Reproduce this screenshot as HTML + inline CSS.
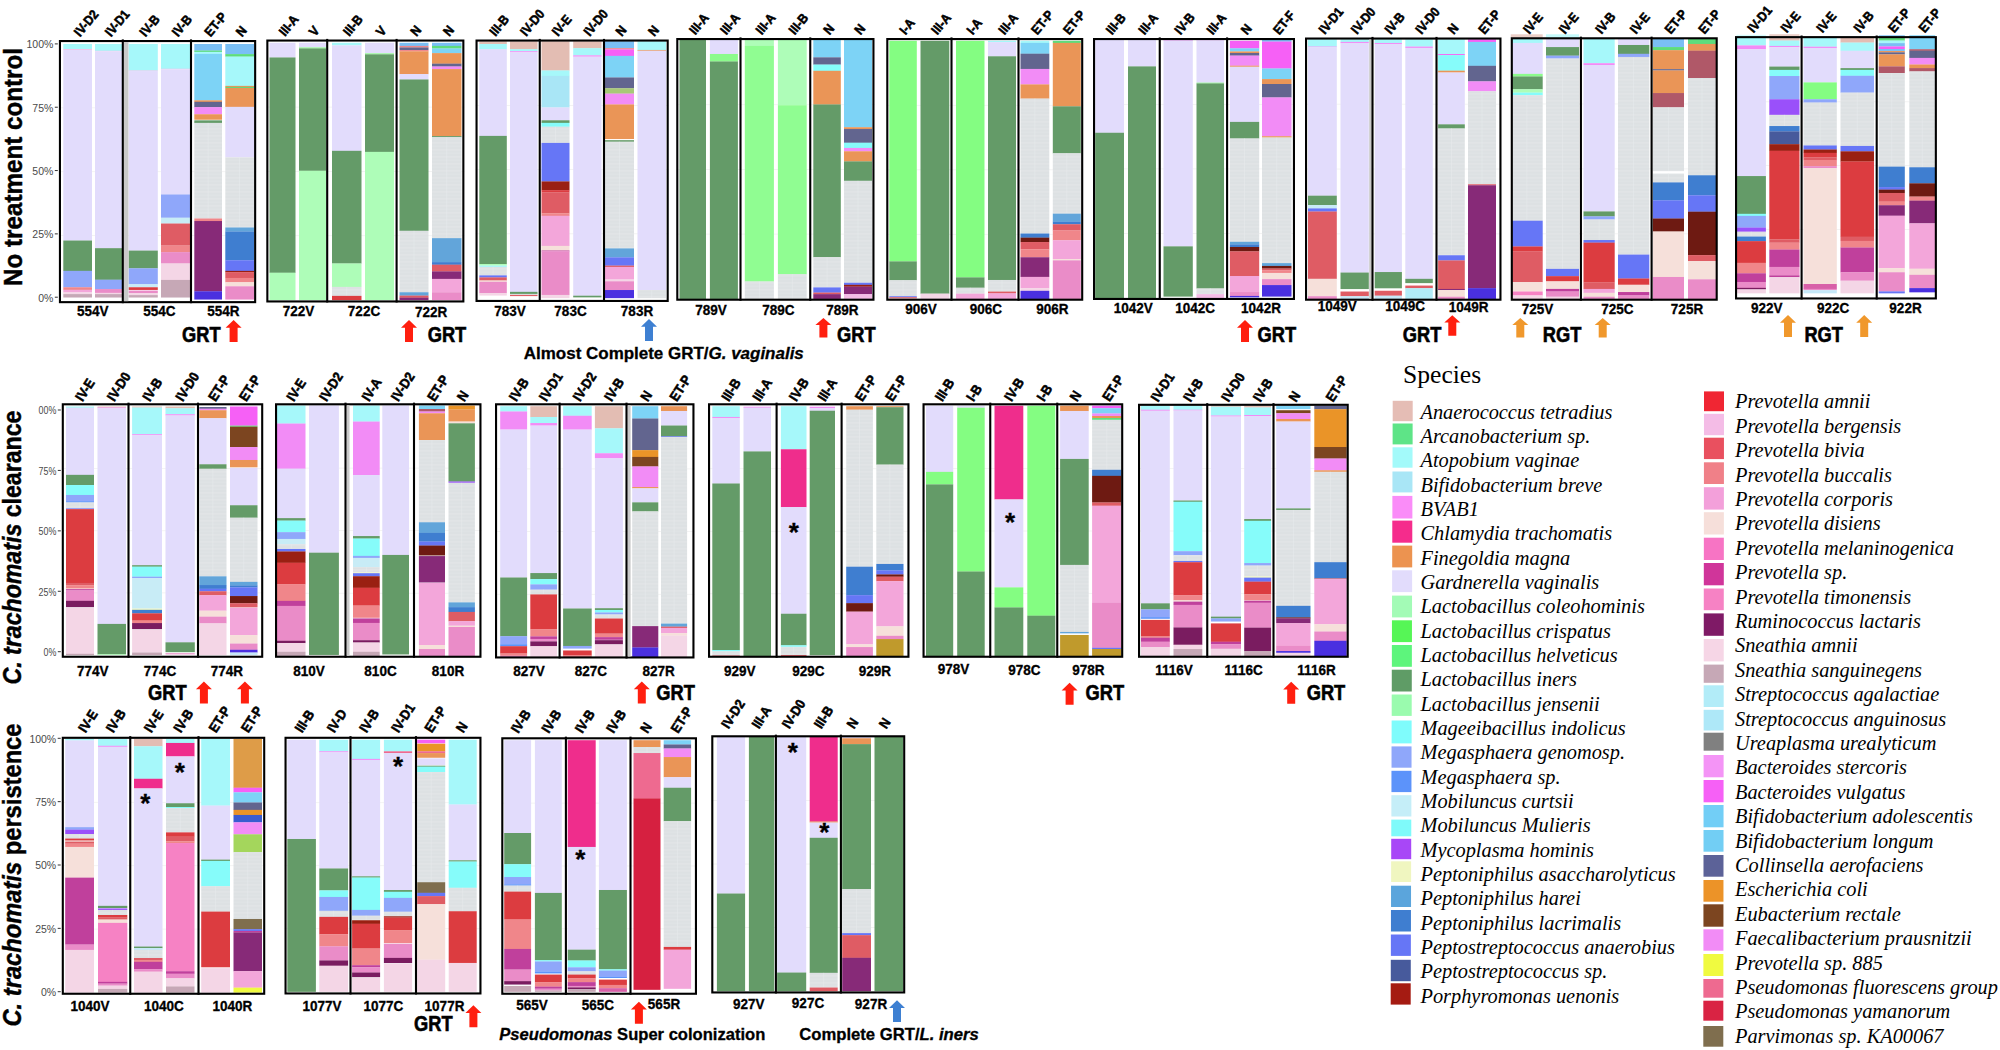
<!DOCTYPE html>
<html lang="en"><head><meta charset="utf-8"><title>Vaginal microbiome community composition</title>
<style>html,body{margin:0;padding:0;background:#fff}body{width:2000px;height:1050px;overflow:hidden;position:relative}svg{position:absolute;left:0;top:0;display:block}.s{font-family:'Liberation Sans', sans-serif;font-weight:700;fill:#000;stroke:#000;stroke-width:.3px}.ax{font-family:'Liberation Sans', sans-serif;font-size:10.7px;fill:#4a4a4a}.lg{font-family:'Liberation Serif', serif;font-style:italic;font-size:20.35px;fill:#000}</style></head><body>
<svg width="2000" height="1050" viewBox="0 0 2000 1050">
<defs><pattern id="gr" width="4" height="7" patternUnits="userSpaceOnUse"><rect width="4" height="7" fill="#DDE1E3"/><rect y="2.6" width="4" height="0.7" fill="#E7EAEC"/><rect y="5.8" width="4" height="0.6" fill="#E3E6E8"/></pattern><path id="arr" d="M0 0 L8 7.8 L4 7.8 L4 22 L-4 22 L-4 7.8 L-8 7.8 Z"/></defs>
<rect width="2000" height="1050" fill="#fff"/>
<text class="s" font-size="25" style="stroke-width:.45px" text-anchor="middle" transform="translate(22.3,167) rotate(-90)" textLength="238" lengthAdjust="spacingAndGlyphs"><tspan font-style="normal">No treatment control</tspan></text>
<text class="s" font-size="25" style="stroke-width:.45px" text-anchor="middle" transform="translate(21.4,547.5) rotate(-90)" textLength="274" lengthAdjust="spacingAndGlyphs"><tspan font-style="italic">C. trachomatis</tspan><tspan font-style="normal"> clearance</tspan></text>
<text class="s" font-size="25" style="stroke-width:.45px" text-anchor="middle" transform="translate(21.4,875) rotate(-90)" textLength="303" lengthAdjust="spacingAndGlyphs"><tspan font-style="italic">C. trachomatis</tspan><tspan font-style="normal"> persistence</tspan></text>
<text class="ax" x="53.3" y="48.3" text-anchor="end" textLength="26.81" lengthAdjust="spacingAndGlyphs">100%</text>
<rect x="54.8" y="43.4" width="3" height="1" fill="#333"/>
<text class="ax" x="53.3" y="111.62" text-anchor="end" textLength="20.98" lengthAdjust="spacingAndGlyphs">75%</text>
<rect x="54.8" y="106.72" width="3" height="1" fill="#333"/>
<text class="ax" x="53.3" y="174.95" text-anchor="end" textLength="20.98" lengthAdjust="spacingAndGlyphs">50%</text>
<rect x="54.8" y="170.05" width="3" height="1" fill="#333"/>
<text class="ax" x="53.3" y="238.28" text-anchor="end" textLength="20.98" lengthAdjust="spacingAndGlyphs">25%</text>
<rect x="54.8" y="233.38" width="3" height="1" fill="#333"/>
<text class="ax" x="53.3" y="301.6" text-anchor="end" textLength="15.15" lengthAdjust="spacingAndGlyphs">0%</text>
<rect x="54.8" y="296.7" width="3" height="1" fill="#333"/>
<text class="ax" x="56.3" y="414.4" text-anchor="end" textLength="17.77" lengthAdjust="spacingAndGlyphs">00%</text>
<rect x="57.8" y="409.5" width="3" height="1" fill="#333"/>
<text class="ax" x="56.3" y="474.82" text-anchor="end" textLength="17.77" lengthAdjust="spacingAndGlyphs">75%</text>
<rect x="57.8" y="469.93" width="3" height="1" fill="#333"/>
<text class="ax" x="56.3" y="535.25" text-anchor="end" textLength="17.77" lengthAdjust="spacingAndGlyphs">50%</text>
<rect x="57.8" y="530.35" width="3" height="1" fill="#333"/>
<text class="ax" x="56.3" y="595.68" text-anchor="end" textLength="17.77" lengthAdjust="spacingAndGlyphs">25%</text>
<rect x="57.8" y="590.78" width="3" height="1" fill="#333"/>
<text class="ax" x="56.3" y="656.1" text-anchor="end" textLength="12.83" lengthAdjust="spacingAndGlyphs">0%</text>
<rect x="57.8" y="651.2" width="3" height="1" fill="#333"/>
<text class="ax" x="56.2" y="742.7" text-anchor="end" textLength="26.81" lengthAdjust="spacingAndGlyphs">100%</text>
<rect x="57.7" y="737.8" width="3" height="1" fill="#333"/>
<text class="ax" x="56.2" y="806.05" text-anchor="end" textLength="20.98" lengthAdjust="spacingAndGlyphs">75%</text>
<rect x="57.7" y="801.15" width="3" height="1" fill="#333"/>
<text class="ax" x="56.2" y="869.4" text-anchor="end" textLength="20.98" lengthAdjust="spacingAndGlyphs">50%</text>
<rect x="57.7" y="864.5" width="3" height="1" fill="#333"/>
<text class="ax" x="56.2" y="932.75" text-anchor="end" textLength="20.98" lengthAdjust="spacingAndGlyphs">25%</text>
<rect x="57.7" y="927.85" width="3" height="1" fill="#333"/>
<text class="ax" x="56.2" y="996.1" text-anchor="end" textLength="15.15" lengthAdjust="spacingAndGlyphs">0%</text>
<rect x="57.7" y="991.2" width="3" height="1" fill="#333"/>
<g>
<rect x="58.9" y="107.45" width="197.3" height="0.8" fill="#f1f1f1"/>
<rect x="58.9" y="171.3" width="197.3" height="0.8" fill="#f1f1f1"/>
<rect x="58.9" y="235.15" width="197.3" height="0.8" fill="#f1f1f1"/>
<rect x="63.3" y="44" width="28.7" height="5.2" fill="#A6F8FA"/>
<rect x="63.3" y="49.05" width="28.7" height="0.91" fill="#F4BCE6"/>
<rect x="63.3" y="49.81" width="28.7" height="190.88" fill="#E2DCFC"/>
<rect x="63.3" y="240.54" width="28.7" height="30.46" fill="#649B68"/>
<rect x="63.3" y="270.85" width="28.7" height="16.57" fill="#8FA7FA"/>
<rect x="63.3" y="287.27" width="28.7" height="2.68" fill="#F0868A"/>
<rect x="63.3" y="289.8" width="28.7" height="2.68" fill="#F3A6DA"/>
<rect x="63.3" y="292.33" width="28.7" height="1.92" fill="#F4D6E6"/>
<rect x="63.3" y="294.09" width="28.7" height="3.43" fill="#C6A8B6"/>
<rect x="95" y="44" width="27.3" height="6.96" fill="#A6F8FA"/>
<rect x="95" y="50.81" width="27.3" height="0.65" fill="#F4BCE6"/>
<rect x="95" y="51.32" width="27.3" height="197" fill="#E2DCFC"/>
<rect x="95" y="248.17" width="27.3" height="31.7" fill="#649B68"/>
<rect x="95" y="279.72" width="27.3" height="9.49" fill="#8FA7FA"/>
<rect x="95" y="289.05" width="27.3" height="3.94" fill="#EA8CC8"/>
<rect x="95" y="292.84" width="27.3" height="1.41" fill="#F4D6E6"/>
<rect x="95" y="294.1" width="27.3" height="3.43" fill="#C6A8B6"/>
<rect x="128.6" y="44" width="29.2" height="26.7" fill="#A6F8FA"/>
<rect x="128.6" y="70.55" width="29.2" height="0.66" fill="#F4BCE6"/>
<rect x="128.6" y="71.06" width="29.2" height="179.69" fill="#E2DCFC"/>
<rect x="128.6" y="250.6" width="29.2" height="17.85" fill="#649B68"/>
<rect x="128.6" y="268.3" width="29.2" height="16.08" fill="#8FA7FA"/>
<rect x="128.6" y="284.23" width="29.2" height="3.18" fill="#C8ECF6"/>
<rect x="128.6" y="287.26" width="29.2" height="2.68" fill="#DC3C40"/>
<rect x="128.6" y="290.55" width="29.2" height="2.68" fill="#EA8CC8"/>
<rect x="128.6" y="293.08" width="29.2" height="2.17" fill="#F4D6E6"/>
<rect x="128.6" y="295.1" width="29.2" height="2.43" fill="#C6A8B6"/>
<rect x="161" y="44" width="29" height="24.93" fill="#A6F8FA"/>
<rect x="161" y="68.78" width="29" height="0.66" fill="#F4BCE6"/>
<rect x="161" y="69.29" width="29" height="125.32" fill="#E2DCFC"/>
<rect x="161" y="194.46" width="29" height="23.41" fill="#8FA7FA"/>
<rect x="161" y="217.72" width="29" height="5.97" fill="#C8ECF6"/>
<rect x="161" y="223.54" width="29" height="22.15" fill="#DF5C64"/>
<rect x="161" y="245.54" width="29" height="6.72" fill="#F0868A"/>
<rect x="161" y="252.11" width="29" height="11.53" fill="#EA8CC8"/>
<rect x="161" y="263.49" width="29" height="16.59" fill="#F4D6E6"/>
<rect x="161" y="279.93" width="29" height="17.6" fill="#C6A8B6"/>
<rect x="194.3" y="44" width="27.7" height="6.74" fill="#7ABFF5"/>
<rect x="194.3" y="50.59" width="27.7" height="1.42" fill="#5EDC7C"/>
<rect x="194.3" y="51.86" width="27.7" height="2.18" fill="#A6F8FA"/>
<rect x="194.3" y="53.89" width="27.7" height="46.56" fill="#7DD3F6"/>
<rect x="194.3" y="100.3" width="27.7" height="1.67" fill="#EA9557"/>
<rect x="194.3" y="101.83" width="27.7" height="5.48" fill="#62658F"/>
<rect x="194.3" y="107.15" width="27.7" height="7.25" fill="#F28CF6"/>
<rect x="194.3" y="114.25" width="27.7" height="5.48" fill="#EA9557"/>
<rect x="194.3" y="120.34" width="27.7" height="2.69" fill="#649B68"/>
<rect x="194.3" y="122.88" width="27.7" height="95.77" fill="url(#gr)"/>
<rect x="207.65" y="122.88" width="1" height="95.62" fill="#E8EBED" opacity=".55"/>
<rect x="194.3" y="218.49" width="27.7" height="2.69" fill="#F0868A"/>
<rect x="194.3" y="221.03" width="27.7" height="70.4" fill="#872A78"/>
<rect x="194.3" y="291.28" width="27.7" height="8.27" fill="#4A30E0"/>
<rect x="225.3" y="44" width="28.7" height="10.24" fill="#7ABFF5"/>
<rect x="225.3" y="54.09" width="28.7" height="2.67" fill="#5EDC7C"/>
<rect x="225.3" y="56.62" width="28.7" height="29.43" fill="#A6F8FA"/>
<rect x="225.3" y="85.89" width="28.7" height="1.16" fill="#EA9557"/>
<rect x="225.3" y="86.9" width="28.7" height="1.16" fill="#5EDC7C"/>
<rect x="225.3" y="87.91" width="28.7" height="19.08" fill="#EA9557"/>
<rect x="225.3" y="106.84" width="28.7" height="50.62" fill="#E2DCFC"/>
<rect x="225.3" y="157.31" width="28.7" height="70.31" fill="url(#gr)"/>
<rect x="239.15" y="157.31" width="1" height="70.16" fill="#E8EBED" opacity=".55"/>
<rect x="225.3" y="227.47" width="28.7" height="4.19" fill="#62A5DA"/>
<rect x="225.3" y="231.51" width="28.7" height="28.92" fill="#3F7ED0"/>
<rect x="225.3" y="260.28" width="28.7" height="10.75" fill="#6676F6"/>
<rect x="225.3" y="270.88" width="28.7" height="1.41" fill="#9A2012"/>
<rect x="225.3" y="272.14" width="28.7" height="5.95" fill="#DF5C64"/>
<rect x="225.3" y="277.95" width="28.7" height="4.44" fill="#F0868A"/>
<rect x="225.3" y="282.24" width="28.7" height="4.19" fill="#F6E0DA"/>
<rect x="225.3" y="286.28" width="28.7" height="13.27" fill="#EA8CC8"/>
<rect x="59.95" y="41.05" width="195.2" height="261.1" fill="none" stroke="#000" stroke-width="2.1"/>
<rect x="124" y="42" width="4.4" height="259.2" fill="#c9c9c9"/>
<rect x="121.75" y="39.4" width="2.1" height="263.8" fill="#000"/>
<rect x="189.95" y="39.4" width="2.1" height="263.8" fill="#000"/>
</g>
<text class="s" style="stroke-width:.55px" font-size="13.2" transform="translate(80.05,37.4) rotate(-50) scale(0.9,1)">IV-D2</text>
<text class="s" style="stroke-width:.55px" font-size="13.2" transform="translate(111.05,37.4) rotate(-50) scale(0.9,1)">IV-D1</text>
<text class="s" style="stroke-width:.55px" font-size="13.2" transform="translate(145.6,37.4) rotate(-50) scale(0.9,1)">IV-B</text>
<text class="s" style="stroke-width:.55px" font-size="13.2" transform="translate(177.9,37.4) rotate(-50) scale(0.9,1)">IV-B</text>
<text class="s" style="stroke-width:.55px" font-size="13.2" transform="translate(210.55,37.4) rotate(-50) scale(0.9,1)">ET-P</text>
<text class="s" style="stroke-width:.55px" font-size="13.2" transform="translate(242.05,37.4) rotate(-50) scale(0.9,1)">N</text>
<text class="s" font-size="14" text-anchor="middle" transform="translate(92.7,316) scale(0.965,1)">554V</text>
<text class="s" font-size="14" text-anchor="middle" transform="translate(159.3,316) scale(0.965,1)">554C</text>
<text class="s" font-size="14" text-anchor="middle" transform="translate(223.3,316) scale(0.965,1)">554R</text>
<g>
<rect x="266.3" y="106.7" width="198.1" height="0.8" fill="#f1f1f1"/>
<rect x="266.3" y="171" width="198.1" height="0.8" fill="#f1f1f1"/>
<rect x="266.3" y="235.3" width="198.1" height="0.8" fill="#f1f1f1"/>
<rect x="269.5" y="42.8" width="26" height="14.81" fill="#E2DCFC"/>
<rect x="269.5" y="57.46" width="26" height="215.43" fill="#649B68"/>
<rect x="269.5" y="272.74" width="26" height="27.41" fill="#AEFDB8"/>
<rect x="299" y="42.8" width="27" height="4.77" fill="#E2DCFC"/>
<rect x="299" y="47.42" width="27" height="1.18" fill="#8CFB8C"/>
<rect x="299" y="48.45" width="27" height="122.45" fill="#649B68"/>
<rect x="299" y="170.76" width="27" height="129.39" fill="#AEFDB8"/>
<rect x="332" y="42.8" width="29.5" height="2.72" fill="#A6F8FA"/>
<rect x="332" y="45.37" width="29.5" height="105.6" fill="#E2DCFC"/>
<rect x="332" y="150.82" width="29.5" height="112.8" fill="#649B68"/>
<rect x="332" y="263.48" width="29.5" height="23.56" fill="#AEFDB8"/>
<rect x="332" y="286.88" width="29.5" height="9.15" fill="url(#gr)"/>
<rect x="346.25" y="286.88" width="1" height="9" fill="#E8EBED" opacity=".55"/>
<rect x="332" y="295.88" width="29.5" height="4.27" fill="#DC3C40"/>
<rect x="365" y="42.8" width="29" height="10.7" fill="#E2DCFC"/>
<rect x="365" y="53.35" width="29" height="1.18" fill="#8CFB8C"/>
<rect x="365" y="54.37" width="29" height="97.63" fill="#649B68"/>
<rect x="365" y="151.85" width="29" height="148.3" fill="#AEFDB8"/>
<rect x="399.5" y="42.8" width="29" height="3.25" fill="#7ABFF5"/>
<rect x="399.5" y="45.9" width="29" height="1.7" fill="#F0868A"/>
<rect x="399.5" y="47.45" width="29" height="2.73" fill="#62658F"/>
<rect x="399.5" y="50.03" width="29" height="1.44" fill="#F0868A"/>
<rect x="399.5" y="51.32" width="29" height="22.87" fill="#EA9557"/>
<rect x="399.5" y="74.05" width="29" height="5.57" fill="#E2DCFC"/>
<rect x="399.5" y="79.47" width="29" height="151.47" fill="#649B68"/>
<rect x="399.5" y="230.79" width="29" height="61.61" fill="url(#gr)"/>
<rect x="413.5" y="230.79" width="1" height="61.46" fill="#E8EBED" opacity=".55"/>
<rect x="399.5" y="292.25" width="29" height="3.51" fill="#62A5DA"/>
<rect x="399.5" y="295.61" width="29" height="2.22" fill="#DF5C64"/>
<rect x="399.5" y="297.68" width="29" height="2.47" fill="#872A78"/>
<rect x="432" y="42.8" width="29.5" height="3.24" fill="#7ABFF5"/>
<rect x="432" y="45.89" width="29.5" height="2.73" fill="#5EDC7C"/>
<rect x="432" y="48.47" width="29.5" height="4.79" fill="#7DD3F6"/>
<rect x="432" y="53.11" width="29.5" height="10.72" fill="#EA9557"/>
<rect x="432" y="63.67" width="29.5" height="2.98" fill="#62658F"/>
<rect x="432" y="66.51" width="29.5" height="2.73" fill="#F28CF6"/>
<rect x="432" y="69.09" width="29.5" height="67.16" fill="#EA9557"/>
<rect x="432" y="136.09" width="29.5" height="1.18" fill="#649B68"/>
<rect x="432" y="137.12" width="29.5" height="101.17" fill="url(#gr)"/>
<rect x="446.25" y="137.12" width="1" height="101.02" fill="#E8EBED" opacity=".55"/>
<rect x="432" y="238.15" width="29.5" height="24.12" fill="#62A5DA"/>
<rect x="432" y="262.12" width="29.5" height="2.73" fill="#3F7ED0"/>
<rect x="432" y="264.69" width="29.5" height="6.85" fill="#DF5C64"/>
<rect x="432" y="271.39" width="29.5" height="7.62" fill="#872A78"/>
<rect x="432" y="278.87" width="29.5" height="13.55" fill="#F3A6DA"/>
<rect x="432" y="292.27" width="29.5" height="7.88" fill="#EA8CC8"/>
<rect x="267.35" y="40.55" width="196" height="260.9" fill="none" stroke="#000" stroke-width="2.1"/>
<rect x="326.15" y="38.9" width="2.1" height="263.6" fill="#000"/>
<rect x="395.55" y="38.9" width="2.1" height="263.6" fill="#000"/>
</g>
<text class="s" style="stroke-width:.55px" font-size="13.2" transform="translate(284.9,36.9) rotate(-50) scale(0.9,1)">III-A</text>
<text class="s" style="stroke-width:.55px" font-size="13.2" transform="translate(314.9,36.9) rotate(-50) scale(0.9,1)">V</text>
<text class="s" style="stroke-width:.55px" font-size="13.2" transform="translate(349.15,36.9) rotate(-50) scale(0.9,1)">III-B</text>
<text class="s" style="stroke-width:.55px" font-size="13.2" transform="translate(381.9,36.9) rotate(-50) scale(0.9,1)">V</text>
<text class="s" style="stroke-width:.55px" font-size="13.2" transform="translate(416.4,36.9) rotate(-50) scale(0.9,1)">N</text>
<text class="s" style="stroke-width:.55px" font-size="13.2" transform="translate(449.15,36.9) rotate(-50) scale(0.9,1)">N</text>
<text class="s" font-size="14" text-anchor="middle" transform="translate(298.6,315.8) scale(0.965,1)">722V</text>
<text class="s" font-size="14" text-anchor="middle" transform="translate(364,316.3) scale(0.965,1)">722C</text>
<text class="s" font-size="14" text-anchor="middle" transform="translate(431.2,317.3) scale(0.965,1)">722R</text>
<g>
<rect x="475.5" y="105" width="193.25" height="0.8" fill="#f1f1f1"/>
<rect x="475.5" y="169.2" width="193.25" height="0.8" fill="#f1f1f1"/>
<rect x="475.5" y="233.4" width="193.25" height="0.8" fill="#f1f1f1"/>
<rect x="479.3" y="41.2" width="27.5" height="2.98" fill="#E3BDB3"/>
<rect x="479.3" y="44.03" width="27.5" height="5.3" fill="#A6F8FA"/>
<rect x="479.3" y="49.18" width="27.5" height="86.87" fill="#E2DCFC"/>
<rect x="479.3" y="135.89" width="27.5" height="128.29" fill="#649B68"/>
<rect x="479.3" y="264.03" width="27.5" height="1.69" fill="#AEFDB8"/>
<rect x="479.3" y="265.58" width="27.5" height="1.44" fill="#A6F8FA"/>
<rect x="479.3" y="266.86" width="27.5" height="8.64" fill="url(#gr)"/>
<rect x="492.55" y="266.86" width="1" height="8.49" fill="#E8EBED" opacity=".55"/>
<rect x="479.3" y="275.36" width="27.5" height="2.21" fill="#6676F6"/>
<rect x="479.3" y="277.41" width="27.5" height="3.24" fill="#DF5C64"/>
<rect x="479.3" y="280.5" width="27.5" height="1.44" fill="#F6E0DA"/>
<rect x="479.3" y="281.79" width="27.5" height="11.47" fill="#EA8CC8"/>
<rect x="479.3" y="293.11" width="27.5" height="2.47" fill="#F4D6E6"/>
<rect x="510" y="41.2" width="27.5" height="8.11" fill="#E3BDB3"/>
<rect x="510" y="49.16" width="27.5" height="2.2" fill="#A6F8FA"/>
<rect x="510" y="51.22" width="27.5" height="1.18" fill="#F28CF6"/>
<rect x="510" y="52.24" width="27.5" height="239.74" fill="#E2DCFC"/>
<rect x="510" y="291.84" width="27.5" height="2.2" fill="#649B68"/>
<rect x="510" y="293.89" width="27.5" height="1.18" fill="url(#gr)"/>
<rect x="510" y="294.92" width="27.5" height="1.18" fill="#DF5C64"/>
<rect x="541.5" y="41.2" width="28" height="29.43" fill="#E3BDB3"/>
<rect x="541.5" y="70.48" width="28" height="5.54" fill="#A6F8FA"/>
<rect x="541.5" y="75.87" width="28" height="31.74" fill="#A9E6F6"/>
<rect x="541.5" y="107.45" width="28" height="12.99" fill="#E2DCFC"/>
<rect x="541.5" y="120.29" width="28" height="2.72" fill="#649B68"/>
<rect x="541.5" y="122.86" width="28" height="4" fill="#86FCFA"/>
<rect x="541.5" y="126.71" width="28" height="16.33" fill="url(#gr)"/>
<rect x="555" y="126.71" width="1" height="16.18" fill="#E8EBED" opacity=".55"/>
<rect x="541.5" y="142.89" width="28" height="38.67" fill="#6676F6"/>
<rect x="541.5" y="181.41" width="28" height="8.88" fill="#9A2012"/>
<rect x="541.5" y="190.14" width="28" height="2.2" fill="#DC3C40"/>
<rect x="541.5" y="192.2" width="28" height="21.21" fill="#DF5C64"/>
<rect x="541.5" y="213.26" width="28" height="2.72" fill="#F0868A"/>
<rect x="541.5" y="215.82" width="28" height="30.2" fill="#F3A6DA"/>
<rect x="541.5" y="245.87" width="28" height="4.77" fill="#F6E0DA"/>
<rect x="541.5" y="250.49" width="28" height="0.92" fill="#C0409C"/>
<rect x="541.5" y="251.26" width="28" height="43.81" fill="#EA8CC8"/>
<rect x="541.5" y="294.92" width="28" height="3.23" fill="#F4D6E6"/>
<rect x="573.2" y="41.2" width="28.3" height="7.09" fill="#E3BDB3"/>
<rect x="573.2" y="48.14" width="28.3" height="7.35" fill="#A6F8FA"/>
<rect x="573.2" y="55.34" width="28.3" height="1.44" fill="#F28CF6"/>
<rect x="573.2" y="56.62" width="28.3" height="239.21" fill="#E2DCFC"/>
<rect x="573.2" y="295.69" width="28.3" height="1.69" fill="#649B68"/>
<rect x="604.7" y="41.2" width="29.3" height="7.09" fill="#7ABFF5"/>
<rect x="604.7" y="48.14" width="29.3" height="1.44" fill="#F0868A"/>
<rect x="604.7" y="49.43" width="29.3" height="6.58" fill="#F660F6"/>
<rect x="604.7" y="55.85" width="29.3" height="21.74" fill="#7DD3F6"/>
<rect x="604.7" y="77.45" width="29.3" height="10.95" fill="#62658F"/>
<rect x="604.7" y="88.24" width="29.3" height="5.55" fill="#A8C878"/>
<rect x="604.7" y="93.64" width="29.3" height="10.95" fill="#F28CF6"/>
<rect x="604.7" y="104.44" width="29.3" height="34.6" fill="#EA9557"/>
<rect x="604.7" y="140.17" width="29.3" height="1.69" fill="#649B68"/>
<rect x="604.7" y="141.71" width="29.3" height="106.83" fill="url(#gr)"/>
<rect x="618.85" y="141.71" width="1" height="106.68" fill="#E8EBED" opacity=".55"/>
<rect x="604.7" y="248.39" width="29.3" height="9.15" fill="#62A5DA"/>
<rect x="604.7" y="257.38" width="29.3" height="8.38" fill="#6676F6"/>
<rect x="604.7" y="265.61" width="29.3" height="1.44" fill="#DF5C64"/>
<rect x="604.7" y="266.9" width="29.3" height="12.75" fill="#F3A6DA"/>
<rect x="604.7" y="279.49" width="29.3" height="1.95" fill="#F4D6E6"/>
<rect x="604.7" y="281.29" width="29.3" height="8.89" fill="#EA8CC8"/>
<rect x="604.7" y="290.03" width="29.3" height="8.12" fill="#4A30E0"/>
<rect x="637.5" y="41.2" width="28.5" height="8.9" fill="#A6F8FA"/>
<rect x="637.5" y="49.95" width="28.5" height="0.92" fill="#EA9557"/>
<rect x="637.5" y="50.72" width="28.5" height="239.45" fill="#E2DCFC"/>
<rect x="637.5" y="290.02" width="28.5" height="8.13" fill="url(#gr)"/>
<rect x="651.25" y="290.02" width="1" height="7.98" fill="#E8EBED" opacity=".55"/>
<rect x="476.55" y="40.55" width="191.15" height="260.4" fill="none" stroke="#000" stroke-width="2.1"/>
<rect x="538.7" y="38.9" width="2.1" height="263.1" fill="#000"/>
<rect x="602.95" y="38.9" width="2.1" height="263.1" fill="#000"/>
</g>
<text class="s" style="stroke-width:.55px" font-size="13.2" transform="translate(495.45,36.9) rotate(-50) scale(0.9,1)">III-B</text>
<text class="s" style="stroke-width:.55px" font-size="13.2" transform="translate(526.15,36.9) rotate(-50) scale(0.9,1)">IV-D0</text>
<text class="s" style="stroke-width:.55px" font-size="13.2" transform="translate(557.9,36.9) rotate(-50) scale(0.9,1)">IV-E</text>
<text class="s" style="stroke-width:.55px" font-size="13.2" transform="translate(589.75,36.9) rotate(-50) scale(0.9,1)">IV-D0</text>
<text class="s" style="stroke-width:.55px" font-size="13.2" transform="translate(621.75,36.9) rotate(-50) scale(0.9,1)">N</text>
<text class="s" style="stroke-width:.55px" font-size="13.2" transform="translate(654.15,36.9) rotate(-50) scale(0.9,1)">N</text>
<text class="s" font-size="14" text-anchor="middle" transform="translate(510,316) scale(0.965,1)">783V</text>
<text class="s" font-size="14" text-anchor="middle" transform="translate(570.5,316) scale(0.965,1)">783C</text>
<text class="s" font-size="14" text-anchor="middle" transform="translate(637,316) scale(0.965,1)">783R</text>
<g>
<rect x="676.25" y="104.3" width="198.25" height="0.8" fill="#f1f1f1"/>
<rect x="676.25" y="169" width="198.25" height="0.8" fill="#f1f1f1"/>
<rect x="676.25" y="233.7" width="198.25" height="0.8" fill="#f1f1f1"/>
<rect x="679.5" y="40" width="26.5" height="258.95" fill="#649B68"/>
<rect x="709.9" y="40" width="28" height="14.13" fill="#E2DCFC"/>
<rect x="709.9" y="53.98" width="28" height="7.66" fill="#8CFB8C"/>
<rect x="709.9" y="61.48" width="28" height="237.47" fill="#649B68"/>
<rect x="744.8" y="40" width="29.1" height="6.1" fill="#AEFDB8"/>
<rect x="744.8" y="45.95" width="29.1" height="235.66" fill="#90FD92"/>
<rect x="744.8" y="281.46" width="29.1" height="17.49" fill="url(#gr)"/>
<rect x="758.85" y="281.46" width="1" height="17.34" fill="#E8EBED" opacity=".55"/>
<rect x="777.9" y="40" width="28.8" height="65.37" fill="#AEFDB8"/>
<rect x="777.9" y="105.22" width="28.8" height="169.15" fill="#90FD92"/>
<rect x="777.9" y="274.21" width="28.8" height="24.74" fill="url(#gr)"/>
<rect x="791.8" y="274.21" width="1" height="24.59" fill="#E8EBED" opacity=".55"/>
<rect x="813.3" y="40" width="27.5" height="17.49" fill="#7DD3F6"/>
<rect x="813.3" y="57.34" width="27.5" height="7.4" fill="#62658F"/>
<rect x="813.3" y="64.59" width="27.5" height="6.36" fill="#86FCFA"/>
<rect x="813.3" y="70.8" width="27.5" height="33.79" fill="#EA9557"/>
<rect x="813.3" y="104.44" width="27.5" height="152.84" fill="#649B68"/>
<rect x="813.3" y="257.13" width="27.5" height="30.43" fill="url(#gr)"/>
<rect x="826.55" y="257.13" width="1" height="30.28" fill="#E8EBED" opacity=".55"/>
<rect x="813.3" y="287.41" width="27.5" height="5.33" fill="#6676F6"/>
<rect x="813.3" y="292.59" width="27.5" height="1.7" fill="#DF5C64"/>
<rect x="813.3" y="294.14" width="27.5" height="4.81" fill="#872A78"/>
<rect x="844" y="40" width="28" height="87.37" fill="#7DD3F6"/>
<rect x="844" y="127.22" width="28" height="1.96" fill="#EA9557"/>
<rect x="844" y="129.03" width="28" height="13.87" fill="#62658F"/>
<rect x="844" y="142.74" width="28" height="5.33" fill="#86FCFA"/>
<rect x="844" y="147.92" width="28" height="3.51" fill="#F28CF6"/>
<rect x="844" y="151.28" width="28" height="10.24" fill="#EA9557"/>
<rect x="844" y="161.38" width="28" height="19.56" fill="#649B68"/>
<rect x="844" y="180.79" width="28" height="102.12" fill="url(#gr)"/>
<rect x="857.5" y="180.79" width="1" height="101.97" fill="#E8EBED" opacity=".55"/>
<rect x="844" y="282.75" width="28" height="2.22" fill="#6676F6"/>
<rect x="844" y="284.82" width="28" height="1.96" fill="#9A2012"/>
<rect x="844" y="286.64" width="28" height="7.66" fill="#872A78"/>
<rect x="844" y="294.14" width="28" height="4.81" fill="#F4BCE6"/>
<rect x="677.3" y="39.05" width="196.15" height="260.65" fill="none" stroke="#000" stroke-width="2.1"/>
<rect x="739.45" y="37.4" width="2.1" height="263.35" fill="#000"/>
<rect x="809.2" y="37.4" width="2.1" height="263.35" fill="#000"/>
</g>
<text class="s" style="stroke-width:.55px" font-size="13.2" transform="translate(695.15,35.4) rotate(-50) scale(0.9,1)">III-A</text>
<text class="s" style="stroke-width:.55px" font-size="13.2" transform="translate(726.3,35.4) rotate(-50) scale(0.9,1)">III-A</text>
<text class="s" style="stroke-width:.55px" font-size="13.2" transform="translate(761.75,35.4) rotate(-50) scale(0.9,1)">III-A</text>
<text class="s" style="stroke-width:.55px" font-size="13.2" transform="translate(794.7,35.4) rotate(-50) scale(0.9,1)">III-B</text>
<text class="s" style="stroke-width:.55px" font-size="13.2" transform="translate(829.45,35.4) rotate(-50) scale(0.9,1)">N</text>
<text class="s" style="stroke-width:.55px" font-size="13.2" transform="translate(860.4,35.4) rotate(-50) scale(0.9,1)">N</text>
<text class="s" font-size="14" text-anchor="middle" transform="translate(711,314.6) scale(0.965,1)">789V</text>
<text class="s" font-size="14" text-anchor="middle" transform="translate(778.3,314.6) scale(0.965,1)">789C</text>
<text class="s" font-size="14" text-anchor="middle" transform="translate(842.3,314.6) scale(0.965,1)">789R</text>
<g>
<rect x="886.25" y="104.9" width="197" height="0.8" fill="#f1f1f1"/>
<rect x="886.25" y="169.4" width="197" height="0.8" fill="#f1f1f1"/>
<rect x="886.25" y="233.9" width="197" height="0.8" fill="#f1f1f1"/>
<rect x="889.3" y="40.8" width="27.5" height="220.74" fill="#84FD82"/>
<rect x="889.3" y="261.39" width="27.5" height="18.98" fill="#649B68"/>
<rect x="889.3" y="280.22" width="27.5" height="16.15" fill="url(#gr)"/>
<rect x="902.55" y="280.22" width="1" height="16" fill="#E8EBED" opacity=".55"/>
<rect x="889.3" y="296.22" width="27.5" height="1.18" fill="#6676F6"/>
<rect x="889.3" y="297.25" width="27.5" height="1.18" fill="#DF5C64"/>
<rect x="920.5" y="40.8" width="28.8" height="252.99" fill="#649B68"/>
<rect x="920.5" y="293.64" width="28.8" height="5.31" fill="#F4D6E6"/>
<rect x="956" y="40.8" width="28.5" height="236.74" fill="#84FD82"/>
<rect x="956" y="277.39" width="28.5" height="10.47" fill="#649B68"/>
<rect x="956" y="287.71" width="28.5" height="6.08" fill="url(#gr)"/>
<rect x="969.75" y="287.71" width="1" height="5.93" fill="#E8EBED" opacity=".55"/>
<rect x="956" y="293.64" width="28.5" height="5.31" fill="#F3A6DA"/>
<rect x="988" y="40.8" width="28" height="1.44" fill="#A6F8FA"/>
<rect x="988" y="42.09" width="28" height="14.34" fill="#E2DCFC"/>
<rect x="988" y="56.28" width="28" height="223.84" fill="#649B68"/>
<rect x="988" y="279.97" width="28" height="11.76" fill="url(#gr)"/>
<rect x="1001.5" y="279.97" width="1" height="11.61" fill="#E8EBED" opacity=".55"/>
<rect x="988" y="291.58" width="28" height="1.96" fill="#DF5C64"/>
<rect x="988" y="293.38" width="28" height="5.57" fill="#F3A6DA"/>
<rect x="1020.5" y="40.8" width="28.8" height="2.21" fill="#A6F8FA"/>
<rect x="1020.5" y="42.86" width="28.8" height="10.99" fill="#7DD3F6"/>
<rect x="1020.5" y="53.7" width="28.8" height="15.37" fill="#62658F"/>
<rect x="1020.5" y="68.92" width="28.8" height="15.63" fill="#F28CF6"/>
<rect x="1020.5" y="84.4" width="28.8" height="14.34" fill="#EA9557"/>
<rect x="1020.5" y="98.59" width="28.8" height="135.08" fill="url(#gr)"/>
<rect x="1034.4" y="98.59" width="1" height="134.93" fill="#E8EBED" opacity=".55"/>
<rect x="1020.5" y="233.53" width="28.8" height="4.28" fill="#3F7ED0"/>
<rect x="1020.5" y="237.65" width="28.8" height="4.54" fill="#6E1A12"/>
<rect x="1020.5" y="242.04" width="28.8" height="7.37" fill="#DF5C64"/>
<rect x="1020.5" y="249.26" width="28.8" height="8.15" fill="#F0868A"/>
<rect x="1020.5" y="257.26" width="28.8" height="19.76" fill="#872A78"/>
<rect x="1020.5" y="276.87" width="28.8" height="11.5" fill="#F3A6DA"/>
<rect x="1020.5" y="288.22" width="28.8" height="2.73" fill="#F4D6E6"/>
<rect x="1020.5" y="290.8" width="28.8" height="8.15" fill="#4A30E0"/>
<rect x="1052.8" y="40.8" width="28" height="2.21" fill="#5EDC7C"/>
<rect x="1052.8" y="42.86" width="28" height="63.62" fill="#EA9557"/>
<rect x="1052.8" y="106.33" width="28" height="47.11" fill="#649B68"/>
<rect x="1052.8" y="153.29" width="28" height="60.52" fill="url(#gr)"/>
<rect x="1066.3" y="153.29" width="1" height="60.37" fill="#E8EBED" opacity=".55"/>
<rect x="1052.8" y="213.66" width="28" height="8.15" fill="#62A5DA"/>
<rect x="1052.8" y="221.66" width="28" height="2.73" fill="#3F7ED0"/>
<rect x="1052.8" y="224.24" width="28" height="6.34" fill="#DF5C64"/>
<rect x="1052.8" y="230.43" width="28" height="9.95" fill="#F0868A"/>
<rect x="1052.8" y="240.23" width="28" height="18.98" fill="#F3A6DA"/>
<rect x="1052.8" y="259.07" width="28" height="1.44" fill="#F6E0DA"/>
<rect x="1052.8" y="260.36" width="28" height="38.59" fill="#EA8CC8"/>
<rect x="887.3" y="39.05" width="194.9" height="260.65" fill="none" stroke="#000" stroke-width="2.1"/>
<rect x="950.45" y="37.4" width="2.1" height="263.35" fill="#000"/>
<rect x="1017.45" y="37.4" width="2.1" height="263.35" fill="#000"/>
</g>
<text class="s" style="stroke-width:.55px" font-size="13.2" transform="translate(905.45,35.4) rotate(-50) scale(0.9,1)">I-A</text>
<text class="s" style="stroke-width:.55px" font-size="13.2" transform="translate(937.3,35.4) rotate(-50) scale(0.9,1)">III-A</text>
<text class="s" style="stroke-width:.55px" font-size="13.2" transform="translate(972.65,35.4) rotate(-50) scale(0.9,1)">I-A</text>
<text class="s" style="stroke-width:.55px" font-size="13.2" transform="translate(1004.4,35.4) rotate(-50) scale(0.9,1)">III-A</text>
<text class="s" style="stroke-width:.55px" font-size="13.2" transform="translate(1037.3,35.4) rotate(-50) scale(0.9,1)">ET-P</text>
<text class="s" style="stroke-width:.55px" font-size="13.2" transform="translate(1069.2,35.4) rotate(-50) scale(0.9,1)">ET-P</text>
<text class="s" font-size="14" text-anchor="middle" transform="translate(921,313.6) scale(0.965,1)">906V</text>
<text class="s" font-size="14" text-anchor="middle" transform="translate(985.8,313.6) scale(0.965,1)">906C</text>
<text class="s" font-size="14" text-anchor="middle" transform="translate(1052.3,313.6) scale(0.965,1)">906R</text>
<g>
<rect x="1093" y="103.95" width="202" height="0.8" fill="#f1f1f1"/>
<rect x="1093" y="168.5" width="202" height="0.8" fill="#f1f1f1"/>
<rect x="1093" y="233.05" width="202" height="0.8" fill="#f1f1f1"/>
<rect x="1095.2" y="39.8" width="28.8" height="93.1" fill="#E2DCFC"/>
<rect x="1095.2" y="132.75" width="28.8" height="165.4" fill="#649B68"/>
<rect x="1128" y="39.8" width="28" height="26.74" fill="#E2DCFC"/>
<rect x="1128" y="66.39" width="28" height="231.76" fill="#649B68"/>
<rect x="1163.5" y="39.8" width="29.3" height="0.92" fill="#F28CF6"/>
<rect x="1163.5" y="40.57" width="29.3" height="205.94" fill="#E2DCFC"/>
<rect x="1163.5" y="246.36" width="29.3" height="50.24" fill="#649B68"/>
<rect x="1196.5" y="39.8" width="27.5" height="0.67" fill="#F28CF6"/>
<rect x="1196.5" y="40.32" width="27.5" height="42.49" fill="#E2DCFC"/>
<rect x="1196.5" y="82.66" width="27.5" height="0.92" fill="#8CFB8C"/>
<rect x="1196.5" y="83.44" width="27.5" height="205.16" fill="#649B68"/>
<rect x="1196.5" y="288.45" width="27.5" height="5.83" fill="url(#gr)"/>
<rect x="1209.75" y="288.45" width="1" height="5.68" fill="#E8EBED" opacity=".55"/>
<rect x="1196.5" y="294.13" width="27.5" height="4.02" fill="#F4BCE6"/>
<rect x="1229.9" y="40.84" width="29.3" height="7.66" fill="#F660F6"/>
<rect x="1229.9" y="48.35" width="29.3" height="3.26" fill="#7DD3F6"/>
<rect x="1229.9" y="51.45" width="29.3" height="1.7" fill="#EA9557"/>
<rect x="1229.9" y="53.01" width="29.3" height="2.74" fill="#62658F"/>
<rect x="1229.9" y="55.6" width="29.3" height="10.25" fill="#F28CF6"/>
<rect x="1229.9" y="65.7" width="29.3" height="1.19" fill="#EA9557"/>
<rect x="1229.9" y="66.73" width="29.3" height="55.31" fill="#E2DCFC"/>
<rect x="1229.9" y="121.9" width="29.3" height="16.72" fill="#649B68"/>
<rect x="1229.9" y="138.47" width="29.3" height="103.48" fill="url(#gr)"/>
<rect x="1244.05" y="138.47" width="1" height="103.33" fill="#E8EBED" opacity=".55"/>
<rect x="1229.9" y="241.8" width="29.3" height="2.74" fill="#62A5DA"/>
<rect x="1229.9" y="244.39" width="29.3" height="2.74" fill="#3F7ED0"/>
<rect x="1229.9" y="246.98" width="29.3" height="4.55" fill="#6E1A12"/>
<rect x="1229.9" y="251.38" width="29.3" height="24.75" fill="#DF5C64"/>
<rect x="1229.9" y="275.99" width="29.3" height="16.21" fill="#F3A6DA"/>
<rect x="1229.9" y="292.04" width="29.3" height="4.03" fill="#EA8CC8"/>
<rect x="1229.9" y="295.93" width="29.3" height="1.44" fill="#4A30E0"/>
<rect x="1262" y="39.8" width="29.5" height="1.96" fill="#7ABFF5"/>
<rect x="1262" y="41.61" width="29.5" height="27.03" fill="#F660F6"/>
<rect x="1262" y="68.49" width="29.5" height="10.75" fill="#7DD3F6"/>
<rect x="1262" y="79.09" width="29.5" height="5.06" fill="#EA9557"/>
<rect x="1262" y="84" width="29.5" height="13.59" fill="#62658F"/>
<rect x="1262" y="97.44" width="29.5" height="38.92" fill="#F28CF6"/>
<rect x="1262" y="136.21" width="29.5" height="1.44" fill="#EA9557"/>
<rect x="1262" y="137.5" width="29.5" height="125.76" fill="url(#gr)"/>
<rect x="1276.25" y="137.5" width="1" height="125.61" fill="#E8EBED" opacity=".55"/>
<rect x="1262" y="263.11" width="29.5" height="2.99" fill="#62A5DA"/>
<rect x="1262" y="265.95" width="29.5" height="2.73" fill="#6E1A12"/>
<rect x="1262" y="268.54" width="29.5" height="1.96" fill="#DF5C64"/>
<rect x="1262" y="270.34" width="29.5" height="2.73" fill="#F0868A"/>
<rect x="1262" y="272.93" width="29.5" height="6.35" fill="#F6E0DA"/>
<rect x="1262" y="279.13" width="29.5" height="6.09" fill="#EA8CC8"/>
<rect x="1262" y="285.08" width="29.5" height="11.52" fill="#4A30E0"/>
<rect x="1094.05" y="39.05" width="199.9" height="259.9" fill="none" stroke="#000" stroke-width="2.1"/>
<rect x="1158.7" y="37.4" width="2.1" height="262.6" fill="#000"/>
<rect x="1226.05" y="37.4" width="2.1" height="262.6" fill="#000"/>
</g>
<text class="s" style="stroke-width:.55px" font-size="13.2" transform="translate(1112,35.4) rotate(-50) scale(0.9,1)">III-B</text>
<text class="s" style="stroke-width:.55px" font-size="13.2" transform="translate(1144.4,35.4) rotate(-50) scale(0.9,1)">III-A</text>
<text class="s" style="stroke-width:.55px" font-size="13.2" transform="translate(1180.55,35.4) rotate(-50) scale(0.9,1)">IV-B</text>
<text class="s" style="stroke-width:.55px" font-size="13.2" transform="translate(1212.65,35.4) rotate(-50) scale(0.9,1)">III-A</text>
<text class="s" style="stroke-width:.55px" font-size="13.2" transform="translate(1246.95,35.4) rotate(-50) scale(0.9,1)">N</text>
<text class="s" style="stroke-width:.55px" font-size="13.2" transform="translate(1279.15,35.4) rotate(-50) scale(0.9,1)">ET-F</text>
<text class="s" font-size="14" text-anchor="middle" transform="translate(1133.2,312.5) scale(0.965,1)">1042V</text>
<text class="s" font-size="14" text-anchor="middle" transform="translate(1195.2,312.5) scale(0.965,1)">1042C</text>
<text class="s" font-size="14" text-anchor="middle" transform="translate(1261,312.5) scale(0.965,1)">1042R</text>
<g>
<rect x="1305" y="103.77" width="196.5" height="0.8" fill="#f1f1f1"/>
<rect x="1305" y="168.65" width="196.5" height="0.8" fill="#f1f1f1"/>
<rect x="1305" y="233.53" width="196.5" height="0.8" fill="#f1f1f1"/>
<rect x="1308" y="39.3" width="28.8" height="7.42" fill="#A6F8FA"/>
<rect x="1308" y="46.57" width="28.8" height="0.67" fill="#F28CF6"/>
<rect x="1308" y="47.09" width="28.8" height="148.73" fill="#E2DCFC"/>
<rect x="1308" y="195.68" width="28.8" height="9.5" fill="#649B68"/>
<rect x="1308" y="205.03" width="28.8" height="3.53" fill="#C8ECF6"/>
<rect x="1308" y="208.4" width="28.8" height="3.27" fill="#6676F6"/>
<rect x="1308" y="211.52" width="28.8" height="67.43" fill="#DF5C64"/>
<rect x="1308" y="278.8" width="28.8" height="17.55" fill="#F6E0DA"/>
<rect x="1308" y="296.2" width="28.8" height="2.75" fill="#EA8CC8"/>
<rect x="1340.5" y="39.3" width="28.3" height="2.75" fill="#A6F8FA"/>
<rect x="1340.5" y="41.9" width="28.3" height="1.19" fill="#F28CF6"/>
<rect x="1340.5" y="42.94" width="28.3" height="229.78" fill="#E2DCFC"/>
<rect x="1340.5" y="272.56" width="28.3" height="16.51" fill="#649B68"/>
<rect x="1340.5" y="291.53" width="28.3" height="4.83" fill="#DF5C64"/>
<rect x="1340.5" y="296.2" width="28.3" height="2.75" fill="#C5E8F8"/>
<rect x="1374.7" y="39.3" width="27.2" height="3.79" fill="#A6F8FA"/>
<rect x="1374.7" y="42.94" width="27.2" height="1.19" fill="#F28CF6"/>
<rect x="1374.7" y="43.98" width="27.2" height="228.22" fill="#E2DCFC"/>
<rect x="1374.7" y="272.04" width="27.2" height="16.26" fill="#649B68"/>
<rect x="1374.7" y="290.75" width="27.2" height="5.09" fill="#DF5C64"/>
<rect x="1374.7" y="295.68" width="27.2" height="3.27" fill="#C5E8F8"/>
<rect x="1405.3" y="39.3" width="27.5" height="7.42" fill="#A6F8FA"/>
<rect x="1405.3" y="46.57" width="27.5" height="1.45" fill="#F28CF6"/>
<rect x="1405.3" y="47.86" width="27.5" height="231.11" fill="#E2DCFC"/>
<rect x="1405.3" y="278.82" width="27.5" height="4.3" fill="#649B68"/>
<rect x="1405.3" y="285.57" width="27.5" height="2.75" fill="#DF5C64"/>
<rect x="1405.3" y="288.16" width="27.5" height="10.79" fill="#B2ECF8"/>
<rect x="1438.1" y="39.3" width="26.7" height="14.93" fill="#A6F8FA"/>
<rect x="1438.1" y="54.08" width="26.7" height="1.19" fill="#F660F6"/>
<rect x="1438.1" y="55.11" width="26.7" height="15.7" fill="#86FCFA"/>
<rect x="1438.1" y="70.67" width="26.7" height="1.96" fill="#EA9557"/>
<rect x="1438.1" y="72.48" width="26.7" height="52" fill="#E2DCFC"/>
<rect x="1438.1" y="124.33" width="26.7" height="4.3" fill="#649B68"/>
<rect x="1438.1" y="128.48" width="26.7" height="126.92" fill="url(#gr)"/>
<rect x="1450.95" y="128.48" width="1" height="126.77" fill="#E8EBED" opacity=".55"/>
<rect x="1438.1" y="255.25" width="26.7" height="5.33" fill="#6676F6"/>
<rect x="1438.1" y="260.43" width="26.7" height="28.67" fill="#DF5C64"/>
<rect x="1438.1" y="288.95" width="26.7" height="1.19" fill="#872A78"/>
<rect x="1438.1" y="289.99" width="26.7" height="6.89" fill="#F6E0DA"/>
<rect x="1438.1" y="296.73" width="26.7" height="2.22" fill="#EA8CC8"/>
<rect x="1468" y="39.3" width="28" height="2.75" fill="#F660F6"/>
<rect x="1468" y="41.9" width="28" height="24.05" fill="#7DD3F6"/>
<rect x="1468" y="65.8" width="28" height="15.74" fill="#62658F"/>
<rect x="1468" y="81.38" width="28" height="10.02" fill="#F28CF6"/>
<rect x="1468" y="91.25" width="28" height="93.14" fill="url(#gr)"/>
<rect x="1481.5" y="91.25" width="1" height="92.99" fill="#E8EBED" opacity=".55"/>
<rect x="1468" y="184.25" width="28" height="1.19" fill="#DF5C64"/>
<rect x="1468" y="185.28" width="28" height="103.01" fill="#872A78"/>
<rect x="1468" y="288.15" width="28" height="10.8" fill="#4A30E0"/>
<rect x="1306.05" y="38.55" width="194.4" height="261.15" fill="none" stroke="#000" stroke-width="2.1"/>
<rect x="1369.2" y="39.5" width="2.4" height="259.25" fill="#c9c9c9"/>
<rect x="1371.45" y="36.9" width="2.1" height="263.85" fill="#000"/>
<rect x="1435.45" y="36.9" width="2.1" height="263.85" fill="#000"/>
</g>
<text class="s" style="stroke-width:.55px" font-size="13.2" transform="translate(1324.8,34.9) rotate(-50) scale(0.9,1)">IV-D1</text>
<text class="s" style="stroke-width:.55px" font-size="13.2" transform="translate(1357.05,34.9) rotate(-50) scale(0.9,1)">IV-D0</text>
<text class="s" style="stroke-width:.55px" font-size="13.2" transform="translate(1390.7,34.9) rotate(-50) scale(0.9,1)">IV-B</text>
<text class="s" style="stroke-width:.55px" font-size="13.2" transform="translate(1421.45,34.9) rotate(-50) scale(0.9,1)">IV-D0</text>
<text class="s" style="stroke-width:.55px" font-size="13.2" transform="translate(1453.85,34.9) rotate(-50) scale(0.9,1)">N</text>
<text class="s" style="stroke-width:.55px" font-size="13.2" transform="translate(1484.4,34.9) rotate(-50) scale(0.9,1)">ET-P</text>
<text class="s" font-size="14" text-anchor="middle" transform="translate(1337.3,311.1) scale(0.965,1)">1049V</text>
<text class="s" font-size="14" text-anchor="middle" transform="translate(1405.2,311.1) scale(0.965,1)">1049C</text>
<text class="s" font-size="14" text-anchor="middle" transform="translate(1468.6,312.3) scale(0.965,1)">1049R</text>
<g>
<rect x="1510.75" y="103.55" width="207" height="0.8" fill="#f1f1f1"/>
<rect x="1510.75" y="168.5" width="207" height="0.8" fill="#f1f1f1"/>
<rect x="1510.75" y="233.45" width="207" height="0.8" fill="#f1f1f1"/>
<rect x="1511" y="39" width="31.7" height="4.05" fill="#A6F8FA"/>
<rect x="1511" y="42.9" width="31.7" height="31.13" fill="#E2DCFC"/>
<rect x="1511" y="73.88" width="31.7" height="2.75" fill="#8CFB8C"/>
<rect x="1511" y="76.49" width="31.7" height="12.91" fill="#649B68"/>
<rect x="1511" y="89.24" width="31.7" height="3.53" fill="#AEFDB8"/>
<rect x="1511" y="92.63" width="31.7" height="2.75" fill="#86FCFA"/>
<rect x="1511" y="95.23" width="31.7" height="125.62" fill="url(#gr)"/>
<rect x="1526.35" y="95.23" width="1" height="125.47" fill="#E8EBED" opacity=".55"/>
<rect x="1511" y="220.7" width="31.7" height="25.92" fill="#6676F6"/>
<rect x="1511" y="246.48" width="31.7" height="4.84" fill="#DC3C40"/>
<rect x="1511" y="251.16" width="31.7" height="31.13" fill="#DF5C64"/>
<rect x="1511" y="282.14" width="31.7" height="9.52" fill="#F6E0DA"/>
<rect x="1511" y="291.51" width="31.7" height="4.05" fill="#F682C4"/>
<rect x="1511" y="295.42" width="31.7" height="3.53" fill="#F4D6E6"/>
<rect x="1546" y="39" width="33" height="8.22" fill="#E2DCFC"/>
<rect x="1546" y="47.07" width="33" height="8.74" fill="#649B68"/>
<rect x="1546" y="55.66" width="33" height="3.01" fill="#8FA7FA"/>
<rect x="1546" y="58.52" width="33" height="210.49" fill="url(#gr)"/>
<rect x="1562" y="58.52" width="1" height="210.34" fill="#E8EBED" opacity=".55"/>
<rect x="1546" y="268.86" width="33" height="7.44" fill="#6676F6"/>
<rect x="1546" y="276.15" width="33" height="5.36" fill="#DC3C40"/>
<rect x="1546" y="281.36" width="33" height="7.7" fill="#F6E0DA"/>
<rect x="1546" y="288.91" width="33" height="2.75" fill="#C0409C"/>
<rect x="1546" y="291.51" width="33" height="5.36" fill="#EA8CC8"/>
<rect x="1546" y="296.72" width="33" height="2.23" fill="#F4D6E6"/>
<rect x="1583.5" y="39" width="31.2" height="24.34" fill="#A6F8FA"/>
<rect x="1583.5" y="63.19" width="31.2" height="1.97" fill="#F28CF6"/>
<rect x="1583.5" y="65.01" width="31.2" height="146.56" fill="#E2DCFC"/>
<rect x="1583.5" y="211.42" width="31.2" height="5.09" fill="#649B68"/>
<rect x="1583.5" y="216.36" width="31.2" height="3.27" fill="#8FA7FA"/>
<rect x="1583.5" y="219.48" width="31.2" height="20.69" fill="url(#gr)"/>
<rect x="1598.6" y="219.48" width="1" height="20.54" fill="#E8EBED" opacity=".55"/>
<rect x="1583.5" y="240.03" width="31.2" height="2.75" fill="#6676F6"/>
<rect x="1583.5" y="242.63" width="31.2" height="39.68" fill="#DC3C40"/>
<rect x="1583.5" y="282.16" width="31.2" height="6.91" fill="#DF5C64"/>
<rect x="1583.5" y="288.92" width="31.2" height="4.05" fill="#F3A6DA"/>
<rect x="1583.5" y="292.82" width="31.2" height="4.05" fill="#F6E0DA"/>
<rect x="1583.5" y="296.72" width="31.2" height="2.23" fill="#EA8CC8"/>
<rect x="1618" y="39" width="31.3" height="6.13" fill="#E2DCFC"/>
<rect x="1618" y="44.98" width="31.3" height="8.99" fill="#649B68"/>
<rect x="1618" y="53.82" width="31.3" height="3.27" fill="#8FA7FA"/>
<rect x="1618" y="56.94" width="31.3" height="197.8" fill="url(#gr)"/>
<rect x="1633.15" y="56.94" width="1" height="197.65" fill="#E8EBED" opacity=".55"/>
<rect x="1618" y="254.59" width="31.3" height="24.08" fill="#6676F6"/>
<rect x="1618" y="278.52" width="31.3" height="6.39" fill="#DC3C40"/>
<rect x="1618" y="284.76" width="31.3" height="7.43" fill="#F6E0DA"/>
<rect x="1618" y="292.04" width="31.3" height="3.53" fill="#C0409C"/>
<rect x="1618" y="295.42" width="31.3" height="3.53" fill="#EA8CC8"/>
<rect x="1652.8" y="39" width="31.2" height="8.2" fill="#7ABFF5"/>
<rect x="1652.8" y="47.05" width="31.2" height="3.27" fill="#5EDC7C"/>
<rect x="1652.8" y="50.17" width="31.2" height="19.12" fill="#EA9557"/>
<rect x="1652.8" y="69.14" width="31.2" height="1.45" fill="#62658F"/>
<rect x="1652.8" y="70.44" width="31.2" height="22.75" fill="#EA9557"/>
<rect x="1652.8" y="93.04" width="31.2" height="14.44" fill="#B05868"/>
<rect x="1652.8" y="107.33" width="31.2" height="63.8" fill="url(#gr)"/>
<rect x="1667.9" y="107.33" width="1" height="63.65" fill="#E8EBED" opacity=".55"/>
<rect x="1652.8" y="173.58" width="31.2" height="8.98" fill="url(#gr)"/>
<rect x="1667.9" y="173.58" width="1" height="8.83" fill="#E8EBED" opacity=".55"/>
<rect x="1652.8" y="182.41" width="31.2" height="18.08" fill="#3F7ED0"/>
<rect x="1652.8" y="200.34" width="31.2" height="18.34" fill="#6676F6"/>
<rect x="1652.8" y="218.52" width="31.2" height="13.14" fill="#6E1A12"/>
<rect x="1652.8" y="231.51" width="31.2" height="45.62" fill="#F6E0DA"/>
<rect x="1652.8" y="276.98" width="31.2" height="21.97" fill="#EA8CC8"/>
<rect x="1688" y="39" width="28" height="5.09" fill="#5EDC7C"/>
<rect x="1688" y="43.94" width="28" height="6.91" fill="#EA9557"/>
<rect x="1688" y="50.7" width="28" height="27.46" fill="#B05868"/>
<rect x="1688" y="78.01" width="28" height="97.41" fill="url(#gr)"/>
<rect x="1701.5" y="78.01" width="1" height="97.26" fill="#E8EBED" opacity=".55"/>
<rect x="1688" y="175.27" width="28" height="20.17" fill="#3F7ED0"/>
<rect x="1688" y="195.3" width="28" height="16.53" fill="#6676F6"/>
<rect x="1688" y="211.68" width="28" height="43.58" fill="#6E1A12"/>
<rect x="1688" y="255.11" width="28" height="6.13" fill="#DF5C64"/>
<rect x="1688" y="261.09" width="28" height="18.35" fill="#F6E0DA"/>
<rect x="1688" y="279.3" width="28" height="19.65" fill="#EA8CC8"/>
<rect x="1510.75" y="34.3" width="31.95" height="3.45" fill="#EBCFC8"/>
<rect x="1546" y="34.3" width="33" height="3.45" fill="#C4FAFB"/>
<rect x="1511.8" y="38.3" width="204.9" height="261.4" fill="none" stroke="#000" stroke-width="2.1"/>
<rect x="1579.85" y="36.65" width="2.1" height="264.1" fill="#000"/>
<rect x="1650.55" y="36.65" width="2.1" height="264.1" fill="#000"/>
</g>
<text class="s" style="stroke-width:.55px" font-size="13.2" transform="translate(1529.25,34.65) rotate(-50) scale(0.9,1)">IV-E</text>
<text class="s" style="stroke-width:.55px" font-size="13.2" transform="translate(1564.9,34.65) rotate(-50) scale(0.9,1)">IV-E</text>
<text class="s" style="stroke-width:.55px" font-size="13.2" transform="translate(1601.5,34.65) rotate(-50) scale(0.9,1)">IV-B</text>
<text class="s" style="stroke-width:.55px" font-size="13.2" transform="translate(1636.05,34.65) rotate(-50) scale(0.9,1)">IV-E</text>
<text class="s" style="stroke-width:.55px" font-size="13.2" transform="translate(1670.8,34.65) rotate(-50) scale(0.9,1)">ET-P</text>
<text class="s" style="stroke-width:.55px" font-size="13.2" transform="translate(1704.4,34.65) rotate(-50) scale(0.9,1)">ET-P</text>
<text class="s" font-size="14" text-anchor="middle" transform="translate(1537.5,313.9) scale(0.965,1)">725V</text>
<text class="s" font-size="14" text-anchor="middle" transform="translate(1617.3,313.9) scale(0.965,1)">725C</text>
<text class="s" font-size="14" text-anchor="middle" transform="translate(1687,313.9) scale(0.965,1)">725R</text>
<g>
<rect x="1735" y="101.4" width="201.9" height="0.8" fill="#f1f1f1"/>
<rect x="1735" y="165.2" width="201.9" height="0.8" fill="#f1f1f1"/>
<rect x="1735" y="229" width="201.9" height="0.8" fill="#f1f1f1"/>
<rect x="1736.5" y="38" width="29.4" height="7.55" fill="#A6F8FA"/>
<rect x="1736.5" y="45.4" width="29.4" height="3.98" fill="#F28CF6"/>
<rect x="1736.5" y="49.23" width="29.4" height="126.98" fill="#E2DCFC"/>
<rect x="1736.5" y="176.06" width="29.4" height="37.92" fill="#649B68"/>
<rect x="1736.5" y="213.83" width="29.4" height="2.19" fill="#86FCFA"/>
<rect x="1736.5" y="215.87" width="29.4" height="11.89" fill="#8FA7FA"/>
<rect x="1736.5" y="227.61" width="29.4" height="4.23" fill="#9A50FA"/>
<rect x="1736.5" y="231.7" width="29.4" height="5" fill="url(#gr)"/>
<rect x="1750.7" y="231.7" width="1" height="4.85" fill="#E8EBED" opacity=".55"/>
<rect x="1736.5" y="236.55" width="29.4" height="4.74" fill="#3F7ED0"/>
<rect x="1736.5" y="241.14" width="29.4" height="21.84" fill="#DC3C40"/>
<rect x="1736.5" y="262.83" width="29.4" height="10.61" fill="#F0868A"/>
<rect x="1736.5" y="273.29" width="29.4" height="8.83" fill="#C0409C"/>
<rect x="1736.5" y="281.97" width="29.4" height="6.02" fill="#EA8CC8"/>
<rect x="1736.5" y="287.84" width="29.4" height="1.68" fill="#7A1C60"/>
<rect x="1736.5" y="289.37" width="29.4" height="3.98" fill="#F4D6E6"/>
<rect x="1769.3" y="38" width="30.2" height="2.7" fill="#E3BDB3"/>
<rect x="1769.3" y="40.55" width="30.2" height="5.51" fill="#A6F8FA"/>
<rect x="1769.3" y="45.91" width="30.2" height="1.43" fill="#F28CF6"/>
<rect x="1769.3" y="47.19" width="30.2" height="19.55" fill="#E2DCFC"/>
<rect x="1769.3" y="66.58" width="30.2" height="3.47" fill="#649B68"/>
<rect x="1769.3" y="69.9" width="30.2" height="6.27" fill="#86FCFA"/>
<rect x="1769.3" y="76.02" width="30.2" height="23.37" fill="#8FA7FA"/>
<rect x="1769.3" y="99.25" width="30.2" height="15.72" fill="#9A50FA"/>
<rect x="1769.3" y="114.82" width="30.2" height="11.38" fill="url(#gr)"/>
<rect x="1783.9" y="114.82" width="1" height="11.23" fill="#E8EBED" opacity=".55"/>
<rect x="1769.3" y="126.04" width="30.2" height="5.51" fill="#3F7ED0"/>
<rect x="1769.3" y="131.4" width="30.2" height="12.91" fill="#475A9C"/>
<rect x="1769.3" y="144.16" width="30.2" height="6.79" fill="#9A2012"/>
<rect x="1769.3" y="150.8" width="30.2" height="88.7" fill="#DC3C40"/>
<rect x="1769.3" y="239.35" width="30.2" height="3.47" fill="#DF5C64"/>
<rect x="1769.3" y="242.67" width="30.2" height="7.04" fill="#F0868A"/>
<rect x="1769.3" y="249.56" width="30.2" height="17.5" fill="#C0409C"/>
<rect x="1769.3" y="266.91" width="30.2" height="8.57" fill="#EA8CC8"/>
<rect x="1769.3" y="275.34" width="30.2" height="1.94" fill="#C0409C"/>
<rect x="1769.3" y="277.12" width="30.2" height="16.23" fill="#F4D6E6"/>
<rect x="1803.5" y="38" width="33.3" height="8.83" fill="#A6F8FA"/>
<rect x="1803.5" y="46.68" width="33.3" height="1.43" fill="#F28CF6"/>
<rect x="1803.5" y="47.95" width="33.3" height="34.6" fill="#E2DCFC"/>
<rect x="1803.5" y="82.4" width="33.3" height="16.99" fill="#84FD82"/>
<rect x="1803.5" y="99.25" width="33.3" height="3.47" fill="#8FA7FA"/>
<rect x="1803.5" y="102.57" width="33.3" height="43.02" fill="url(#gr)"/>
<rect x="1819.65" y="102.57" width="1" height="42.87" fill="#E8EBED" opacity=".55"/>
<rect x="1803.5" y="145.44" width="33.3" height="4.23" fill="#6676F6"/>
<rect x="1803.5" y="149.52" width="33.3" height="3.47" fill="#9A2012"/>
<rect x="1803.5" y="152.84" width="33.3" height="4.74" fill="#DC3C40"/>
<rect x="1803.5" y="157.43" width="33.3" height="2.7" fill="#DF5C64"/>
<rect x="1803.5" y="159.99" width="33.3" height="6.27" fill="#F0868A"/>
<rect x="1803.5" y="166.11" width="33.3" height="2.19" fill="#EA8CC8"/>
<rect x="1803.5" y="168.15" width="33.3" height="116.01" fill="#F6E0DA"/>
<rect x="1803.5" y="284.01" width="33.3" height="5" fill="#D860A8"/>
<rect x="1803.5" y="288.86" width="33.3" height="1.43" fill="#EA8CC8"/>
<rect x="1803.5" y="290.14" width="33.3" height="3.21" fill="#C5E8F8"/>
<rect x="1840.5" y="38" width="33.5" height="4.74" fill="#E3BDB3"/>
<rect x="1840.5" y="42.59" width="33.5" height="8.32" fill="#A6F8FA"/>
<rect x="1840.5" y="50.76" width="33.5" height="17.5" fill="#E2DCFC"/>
<rect x="1840.5" y="68.11" width="33.5" height="1.94" fill="#649B68"/>
<rect x="1840.5" y="69.9" width="33.5" height="6.02" fill="#86FCFA"/>
<rect x="1840.5" y="75.77" width="33.5" height="16.99" fill="#8FA7FA"/>
<rect x="1840.5" y="92.61" width="33.5" height="53.49" fill="url(#gr)"/>
<rect x="1856.75" y="92.61" width="1" height="53.34" fill="#E8EBED" opacity=".55"/>
<rect x="1840.5" y="145.95" width="33.5" height="5.51" fill="#6676F6"/>
<rect x="1840.5" y="151.31" width="33.5" height="10.36" fill="#9A2012"/>
<rect x="1840.5" y="161.52" width="33.5" height="75.43" fill="#DC3C40"/>
<rect x="1840.5" y="236.8" width="33.5" height="4.23" fill="#DF5C64"/>
<rect x="1840.5" y="240.88" width="33.5" height="6.79" fill="#F0868A"/>
<rect x="1840.5" y="247.52" width="33.5" height="24.9" fill="#C0409C"/>
<rect x="1840.5" y="272.27" width="33.5" height="8.57" fill="#EA8CC8"/>
<rect x="1840.5" y="280.7" width="33.5" height="12.65" fill="#F4D6E6"/>
<rect x="1878.7" y="38" width="26.1" height="2.71" fill="#5EDC7C"/>
<rect x="1878.7" y="40.56" width="26.1" height="2.71" fill="#A6F8FA"/>
<rect x="1878.7" y="43.11" width="26.1" height="3.47" fill="#7ABFF5"/>
<rect x="1878.7" y="46.44" width="26.1" height="2.71" fill="#F660F6"/>
<rect x="1878.7" y="49" width="26.1" height="2.2" fill="#7ABFF5"/>
<rect x="1878.7" y="51.04" width="26.1" height="1.43" fill="#EA9557"/>
<rect x="1878.7" y="52.32" width="26.1" height="2.2" fill="#62658F"/>
<rect x="1878.7" y="54.37" width="26.1" height="12.17" fill="#EA9557"/>
<rect x="1878.7" y="66.38" width="26.1" height="6.8" fill="#B05868"/>
<rect x="1878.7" y="73.03" width="26.1" height="93.74" fill="url(#gr)"/>
<rect x="1891.25" y="73.03" width="1" height="93.59" fill="#E8EBED" opacity=".55"/>
<rect x="1878.7" y="166.62" width="26.1" height="20.61" fill="#3F7ED0"/>
<rect x="1878.7" y="187.08" width="26.1" height="2.71" fill="#6676F6"/>
<rect x="1878.7" y="189.64" width="26.1" height="3.47" fill="#6E1A12"/>
<rect x="1878.7" y="192.96" width="26.1" height="8.84" fill="#DF5C64"/>
<rect x="1878.7" y="201.66" width="26.1" height="3.73" fill="#F0868A"/>
<rect x="1878.7" y="205.24" width="26.1" height="10.63" fill="#872A78"/>
<rect x="1878.7" y="215.72" width="26.1" height="52.57" fill="#F3A6DA"/>
<rect x="1878.7" y="268.14" width="26.1" height="4.24" fill="#F6E0DA"/>
<rect x="1878.7" y="272.23" width="26.1" height="19.33" fill="#EA8CC8"/>
<rect x="1878.7" y="291.41" width="26.1" height="1.94" fill="#6676F6"/>
<rect x="1909.3" y="38" width="25.9" height="11.37" fill="#7DD3F6"/>
<rect x="1909.3" y="49.22" width="25.9" height="1.68" fill="#B05868"/>
<rect x="1909.3" y="50.75" width="25.9" height="7.29" fill="#62658F"/>
<rect x="1909.3" y="57.89" width="25.9" height="6.78" fill="#F28CF6"/>
<rect x="1909.3" y="64.51" width="25.9" height="3.72" fill="#EA9557"/>
<rect x="1909.3" y="68.08" width="25.9" height="3.46" fill="#B05868"/>
<rect x="1909.3" y="71.4" width="25.9" height="96.01" fill="url(#gr)"/>
<rect x="1921.75" y="71.4" width="1" height="95.86" fill="#E8EBED" opacity=".55"/>
<rect x="1909.3" y="167.26" width="25.9" height="16.21" fill="#3F7ED0"/>
<rect x="1909.3" y="183.32" width="25.9" height="13.41" fill="#6E1A12"/>
<rect x="1909.3" y="196.58" width="25.9" height="4.23" fill="#F0868A"/>
<rect x="1909.3" y="200.65" width="25.9" height="22.84" fill="#872A78"/>
<rect x="1909.3" y="223.35" width="25.9" height="45.53" fill="#F3A6DA"/>
<rect x="1909.3" y="268.73" width="25.9" height="6.27" fill="#F6E0DA"/>
<rect x="1909.3" y="274.84" width="25.9" height="13.41" fill="#EA8CC8"/>
<rect x="1909.3" y="288.1" width="25.9" height="4.23" fill="#4A30E0"/>
<rect x="1769.3" y="34.2" width="30.2" height="2.4" fill="#EBCFC8"/>
<rect x="1736.5" y="34.8" width="29.4" height="1.8" fill="#D5FBFC"/>
<rect x="1878.7" y="35.2" width="26.1" height="1.4" fill="#8CC8F5"/>
<rect x="1909.3" y="35.2" width="25.9" height="1.4" fill="#8CD6F6"/>
<rect x="1736.05" y="37.15" width="199.8" height="261.3" fill="none" stroke="#000" stroke-width="2.1"/>
<rect x="1800.55" y="35.5" width="2.1" height="264" fill="#000"/>
<rect x="1875.65" y="35.5" width="2.1" height="264" fill="#000"/>
</g>
<text class="s" style="stroke-width:.55px" font-size="13.2" transform="translate(1753.6,33.5) rotate(-50) scale(0.9,1)">IV-D1</text>
<text class="s" style="stroke-width:.55px" font-size="13.2" transform="translate(1786.8,33.5) rotate(-50) scale(0.9,1)">IV-E</text>
<text class="s" style="stroke-width:.55px" font-size="13.2" transform="translate(1822.55,33.5) rotate(-50) scale(0.9,1)">IV-E</text>
<text class="s" style="stroke-width:.55px" font-size="13.2" transform="translate(1859.65,33.5) rotate(-50) scale(0.9,1)">IV-B</text>
<text class="s" style="stroke-width:.55px" font-size="13.2" transform="translate(1894.15,33.5) rotate(-50) scale(0.9,1)">ET-P</text>
<text class="s" style="stroke-width:.55px" font-size="13.2" transform="translate(1924.65,33.5) rotate(-50) scale(0.9,1)">ET-P</text>
<text class="s" font-size="14" text-anchor="middle" transform="translate(1766.7,313.3) scale(0.965,1)">922V</text>
<text class="s" font-size="14" text-anchor="middle" transform="translate(1833.2,313.3) scale(0.965,1)">922C</text>
<text class="s" font-size="14" text-anchor="middle" transform="translate(1905.5,313.3) scale(0.965,1)">922R</text>
<g>
<rect x="61.75" y="468.23" width="201.5" height="0.8" fill="#f1f1f1"/>
<rect x="61.75" y="530.35" width="201.5" height="0.8" fill="#f1f1f1"/>
<rect x="61.75" y="592.48" width="201.5" height="0.8" fill="#f1f1f1"/>
<rect x="66" y="406.5" width="28" height="1.39" fill="#A6F8FA"/>
<rect x="66" y="407.74" width="28" height="67.25" fill="#E2DCFC"/>
<rect x="66" y="474.84" width="28" height="10.34" fill="#649B68"/>
<rect x="66" y="485.03" width="28" height="10.09" fill="#86FCFA"/>
<rect x="66" y="494.97" width="28" height="6.36" fill="#8FA7FA"/>
<rect x="66" y="501.18" width="28" height="1.39" fill="#5C93FA"/>
<rect x="66" y="502.42" width="28" height="6.11" fill="url(#gr)"/>
<rect x="79.5" y="502.42" width="1" height="5.96" fill="#E8EBED" opacity=".55"/>
<rect x="66" y="508.38" width="28" height="0.9" fill="#6676F6"/>
<rect x="66" y="509.13" width="28" height="73.95" fill="#DC3C40"/>
<rect x="66" y="582.93" width="28" height="2.39" fill="#DF5C64"/>
<rect x="66" y="585.17" width="28" height="3.38" fill="#F0868A"/>
<rect x="66" y="589.15" width="28" height="1.39" fill="#C0409C"/>
<rect x="66" y="590.39" width="28" height="10.59" fill="#EA8CC8"/>
<rect x="66" y="600.83" width="28" height="6.36" fill="#7A1C60"/>
<rect x="66" y="607.78" width="28" height="46.12" fill="#F4D6E6"/>
<rect x="66" y="653.76" width="28" height="1.39" fill="#C6A8B6"/>
<rect x="97.5" y="406.5" width="28.5" height="1.14" fill="#E3BDB3"/>
<rect x="97.5" y="407.49" width="28.5" height="0.9" fill="#F28CF6"/>
<rect x="97.5" y="408.24" width="28.5" height="215.82" fill="#E2DCFC"/>
<rect x="97.5" y="623.91" width="28.5" height="30.5" fill="#649B68"/>
<rect x="97.5" y="654.25" width="28.5" height="0.9" fill="#AEFDB8"/>
<rect x="132.1" y="406.5" width="29.9" height="1.15" fill="#E3BDB3"/>
<rect x="132.1" y="407.5" width="29.9" height="26.85" fill="#A6F8FA"/>
<rect x="132.1" y="434.19" width="29.9" height="1.15" fill="#F28CF6"/>
<rect x="132.1" y="435.19" width="29.9" height="130.14" fill="#E2DCFC"/>
<rect x="132.1" y="565.18" width="29.9" height="1.65" fill="#649B68"/>
<rect x="132.1" y="566.68" width="29.9" height="10.13" fill="#86FCFA"/>
<rect x="132.1" y="576.66" width="29.9" height="1.65" fill="#8FA7FA"/>
<rect x="132.1" y="578.15" width="29.9" height="30.59" fill="#C8ECF6"/>
<rect x="132.1" y="608.59" width="29.9" height="1.4" fill="#F0F6C0"/>
<rect x="132.1" y="609.84" width="29.9" height="3.64" fill="#3F7ED0"/>
<rect x="132.1" y="613.33" width="29.9" height="7.39" fill="#DC3C40"/>
<rect x="132.1" y="620.57" width="29.9" height="2.64" fill="#F0868A"/>
<rect x="132.1" y="623.06" width="29.9" height="6.14" fill="#7A1C60"/>
<rect x="132.1" y="629.8" width="29.9" height="22.85" fill="#F4D6E6"/>
<rect x="132.1" y="652.51" width="29.9" height="2.64" fill="#C6A8B6"/>
<rect x="165.5" y="406.5" width="29.3" height="1.89" fill="#E3BDB3"/>
<rect x="165.5" y="408.24" width="29.3" height="6.12" fill="#A6F8FA"/>
<rect x="165.5" y="414.21" width="29.3" height="1.39" fill="#F28CF6"/>
<rect x="165.5" y="415.45" width="29.3" height="227.01" fill="#E2DCFC"/>
<rect x="165.5" y="642.31" width="29.3" height="9.85" fill="#649B68"/>
<rect x="165.5" y="653.26" width="29.3" height="1.14" fill="#EA8CC8"/>
<rect x="199.3" y="407" width="27.2" height="1.89" fill="#62658F"/>
<rect x="199.3" y="408.74" width="27.2" height="1.64" fill="#F28CF6"/>
<rect x="199.3" y="410.23" width="27.2" height="8.12" fill="#EA9557"/>
<rect x="199.3" y="418.2" width="27.2" height="46.21" fill="#E2DCFC"/>
<rect x="199.3" y="464.27" width="27.2" height="4.63" fill="#649B68"/>
<rect x="199.3" y="468.75" width="27.2" height="107.72" fill="url(#gr)"/>
<rect x="212.4" y="468.75" width="1" height="107.57" fill="#E8EBED" opacity=".55"/>
<rect x="199.3" y="576.32" width="27.2" height="8.86" fill="#62A5DA"/>
<rect x="199.3" y="585.03" width="27.2" height="3.88" fill="#3F7ED0"/>
<rect x="199.3" y="588.77" width="27.2" height="2.64" fill="#6676F6"/>
<rect x="199.3" y="591.26" width="27.2" height="4.13" fill="#DF5C64"/>
<rect x="199.3" y="595.24" width="27.2" height="15.59" fill="#F3A6DA"/>
<rect x="199.3" y="610.68" width="27.2" height="6.13" fill="#F6E0DA"/>
<rect x="199.3" y="616.65" width="27.2" height="6.87" fill="#EA8CC8"/>
<rect x="199.3" y="623.38" width="27.2" height="31.77" fill="#F4D6E6"/>
<rect x="230" y="406.5" width="27.5" height="19.3" fill="#F660F6"/>
<rect x="230" y="425.65" width="27.5" height="1.14" fill="#5EDC7C"/>
<rect x="230" y="426.65" width="27.5" height="20.55" fill="#7C4520"/>
<rect x="230" y="447.05" width="27.5" height="13.08" fill="#F28CF6"/>
<rect x="230" y="459.98" width="27.5" height="7.36" fill="#EA9557"/>
<rect x="230" y="467.94" width="27.5" height="37.46" fill="#E2DCFC"/>
<rect x="230" y="505.25" width="27.5" height="12.59" fill="#649B68"/>
<rect x="230" y="517.69" width="27.5" height="64.33" fill="url(#gr)"/>
<rect x="243.25" y="517.69" width="1" height="64.18" fill="#E8EBED" opacity=".55"/>
<rect x="230" y="581.87" width="27.5" height="3.63" fill="#62A5DA"/>
<rect x="230" y="585.35" width="27.5" height="2.14" fill="#3F7ED0"/>
<rect x="230" y="587.34" width="27.5" height="8.86" fill="#6676F6"/>
<rect x="230" y="596.05" width="27.5" height="7.36" fill="#6E1A12"/>
<rect x="230" y="603.26" width="27.5" height="4.13" fill="#DF5C64"/>
<rect x="230" y="607.74" width="27.5" height="27.51" fill="#F3A6DA"/>
<rect x="230" y="635.1" width="27.5" height="8.61" fill="#F6E0DA"/>
<rect x="230" y="643.56" width="27.5" height="6.37" fill="#EA8CC8"/>
<rect x="230" y="649.78" width="27.5" height="2.89" fill="#4A30E0"/>
<rect x="230" y="652.51" width="27.5" height="2.64" fill="#C5E8F8"/>
<rect x="62.8" y="404.3" width="199.4" height="252.45" fill="none" stroke="#000" stroke-width="2.1"/>
<rect x="127.45" y="402.65" width="2.1" height="255.15" fill="#000"/>
<rect x="196.95" y="402.65" width="2.1" height="255.15" fill="#000"/>
</g>
<text class="s" style="stroke-width:.55px" font-size="13.8" transform="translate(82.6,402.25) rotate(-57) scale(0.9,1)">IV-E</text>
<text class="s" style="stroke-width:.55px" font-size="13.8" transform="translate(114.35,402.25) rotate(-57) scale(0.9,1)">IV-D0</text>
<text class="s" style="stroke-width:.55px" font-size="13.8" transform="translate(149.65,402.25) rotate(-57) scale(0.9,1)">IV-B</text>
<text class="s" style="stroke-width:.55px" font-size="13.8" transform="translate(182.75,402.25) rotate(-57) scale(0.9,1)">IV-D0</text>
<text class="s" style="stroke-width:.55px" font-size="13.8" transform="translate(215.5,402.25) rotate(-57) scale(0.9,1)">ET-P</text>
<text class="s" style="stroke-width:.55px" font-size="13.8" transform="translate(246.35,402.25) rotate(-57) scale(0.9,1)">ET-P</text>
<text class="s" font-size="14" text-anchor="middle" transform="translate(92.7,676) scale(0.965,1)">774V</text>
<text class="s" font-size="14" text-anchor="middle" transform="translate(160,676) scale(0.965,1)">774C</text>
<text class="s" font-size="14" text-anchor="middle" transform="translate(226.8,676) scale(0.965,1)">774R</text>
<g>
<rect x="275" y="467.68" width="206.5" height="0.8" fill="#f1f1f1"/>
<rect x="275" y="530.25" width="206.5" height="0.8" fill="#f1f1f1"/>
<rect x="275" y="592.82" width="206.5" height="0.8" fill="#f1f1f1"/>
<rect x="277" y="405.5" width="28.5" height="18.21" fill="#A6F8FA"/>
<rect x="277" y="423.56" width="28.5" height="45.29" fill="#F28CF6"/>
<rect x="277" y="468.7" width="28.5" height="49.56" fill="#E2DCFC"/>
<rect x="277" y="518.11" width="28.5" height="2.66" fill="#649B68"/>
<rect x="277" y="520.62" width="28.5" height="11.69" fill="#86FCFA"/>
<rect x="277" y="532.15" width="28.5" height="6.92" fill="#8FA7FA"/>
<rect x="277" y="538.93" width="28.5" height="5.42" fill="#C8ECF6"/>
<rect x="277" y="544.19" width="28.5" height="4.92" fill="url(#gr)"/>
<rect x="290.75" y="544.19" width="1" height="4.77" fill="#E8EBED" opacity=".55"/>
<rect x="277" y="548.96" width="28.5" height="2.66" fill="#6676F6"/>
<rect x="277" y="551.47" width="28.5" height="11.44" fill="#9A2012"/>
<rect x="277" y="562.75" width="28.5" height="21.47" fill="#DC3C40"/>
<rect x="277" y="584.07" width="28.5" height="16.95" fill="#F0868A"/>
<rect x="277" y="600.87" width="28.5" height="5.17" fill="#C0409C"/>
<rect x="277" y="605.89" width="28.5" height="35.01" fill="#EA8CC8"/>
<rect x="277" y="640.75" width="28.5" height="2.41" fill="#7A1C60"/>
<rect x="277" y="643.01" width="28.5" height="8.93" fill="#F4D6E6"/>
<rect x="277" y="651.79" width="28.5" height="4.16" fill="#C6A8B6"/>
<rect x="309" y="405.5" width="29.9" height="147.33" fill="#E2DCFC"/>
<rect x="309" y="552.68" width="29.9" height="102.27" fill="#649B68"/>
<rect x="353" y="405.5" width="26.7" height="16.22" fill="#A6F8FA"/>
<rect x="353" y="421.57" width="26.7" height="53.62" fill="#F28CF6"/>
<rect x="353" y="475.04" width="26.7" height="61.16" fill="#E2DCFC"/>
<rect x="353" y="536.05" width="26.7" height="2.66" fill="#649B68"/>
<rect x="353" y="538.56" width="26.7" height="17.47" fill="#86FCFA"/>
<rect x="353" y="555.88" width="26.7" height="2.16" fill="#8FA7FA"/>
<rect x="353" y="557.89" width="26.7" height="9.44" fill="#C8ECF6"/>
<rect x="353" y="567.18" width="26.7" height="5.42" fill="url(#gr)"/>
<rect x="365.85" y="567.18" width="1" height="5.27" fill="#E8EBED" opacity=".55"/>
<rect x="353" y="572.45" width="26.7" height="0.9" fill="#F0F6C0"/>
<rect x="353" y="573.2" width="26.7" height="3.16" fill="#6676F6"/>
<rect x="353" y="576.22" width="26.7" height="11.7" fill="#9A2012"/>
<rect x="353" y="587.76" width="26.7" height="17.97" fill="#DC3C40"/>
<rect x="353" y="605.59" width="26.7" height="12.2" fill="#F0868A"/>
<rect x="353" y="618.39" width="26.7" height="4.67" fill="#C0409C"/>
<rect x="353" y="622.91" width="26.7" height="17.47" fill="#EA8CC8"/>
<rect x="353" y="640.23" width="26.7" height="2.41" fill="#7A1C60"/>
<rect x="353" y="642.49" width="26.7" height="9.44" fill="#F4D6E6"/>
<rect x="353" y="651.78" width="26.7" height="4.17" fill="#C6A8B6"/>
<rect x="382.3" y="405.5" width="26.7" height="149.58" fill="#E2DCFC"/>
<rect x="382.3" y="554.93" width="26.7" height="99.52" fill="#649B68"/>
<rect x="418.9" y="405.5" width="26.1" height="3.66" fill="#7DD3F6"/>
<rect x="418.9" y="409.01" width="26.1" height="2.66" fill="#B05868"/>
<rect x="418.9" y="411.51" width="26.1" height="1.9" fill="#F28CF6"/>
<rect x="418.9" y="413.27" width="26.1" height="26.96" fill="#EA9557"/>
<rect x="418.9" y="440.08" width="26.1" height="82.33" fill="url(#gr)"/>
<rect x="431.45" y="440.08" width="1" height="82.18" fill="#E8EBED" opacity=".55"/>
<rect x="418.9" y="522.26" width="26.1" height="10.67" fill="#62A5DA"/>
<rect x="418.9" y="532.78" width="26.1" height="8.92" fill="#3F7ED0"/>
<rect x="418.9" y="541.55" width="26.1" height="4.16" fill="#6676F6"/>
<rect x="418.9" y="545.56" width="26.1" height="9.92" fill="#6E1A12"/>
<rect x="418.9" y="556.08" width="26.1" height="26.46" fill="#872A78"/>
<rect x="418.9" y="582.89" width="26.1" height="62.29" fill="#F3A6DA"/>
<rect x="418.9" y="645.03" width="26.1" height="4.16" fill="#F6E0DA"/>
<rect x="418.9" y="649.04" width="26.1" height="6.91" fill="#EA8CC8"/>
<rect x="448.5" y="405.5" width="26.4" height="4.16" fill="#EA9428"/>
<rect x="448.5" y="409.51" width="26.4" height="12.19" fill="#EA9557"/>
<rect x="448.5" y="421.55" width="26.4" height="1.91" fill="#F6E0DA"/>
<rect x="448.5" y="423.31" width="26.4" height="58.34" fill="#649B68"/>
<rect x="448.5" y="481.49" width="26.4" height="1.4" fill="#9A50FA"/>
<rect x="448.5" y="482.75" width="26.4" height="119.78" fill="url(#gr)"/>
<rect x="461.2" y="482.75" width="1" height="119.63" fill="#E8EBED" opacity=".55"/>
<rect x="448.5" y="602.38" width="26.4" height="4.92" fill="#62A5DA"/>
<rect x="448.5" y="607.14" width="26.4" height="4.92" fill="#3F7ED0"/>
<rect x="448.5" y="611.91" width="26.4" height="9.43" fill="#DF5C64"/>
<rect x="448.5" y="621.19" width="26.4" height="4.66" fill="#F3A6DA"/>
<rect x="448.5" y="625.7" width="26.4" height="1.4" fill="#F6E0DA"/>
<rect x="448.5" y="626.96" width="26.4" height="28.99" fill="#EA8CC8"/>
<rect x="276.05" y="404.3" width="204.4" height="252.45" fill="none" stroke="#000" stroke-width="2.1"/>
<rect x="346.7" y="405.25" width="2.8" height="250.55" fill="#c9c9c9"/>
<rect x="344.45" y="402.65" width="2.1" height="255.15" fill="#000"/>
<rect x="412.95" y="402.65" width="2.1" height="255.15" fill="#000"/>
</g>
<text class="s" style="stroke-width:.55px" font-size="13.8" transform="translate(293.85,402.25) rotate(-57) scale(0.9,1)">IV-E</text>
<text class="s" style="stroke-width:.55px" font-size="13.8" transform="translate(326.55,402.25) rotate(-57) scale(0.9,1)">IV-D2</text>
<text class="s" style="stroke-width:.55px" font-size="13.8" transform="translate(368.95,402.25) rotate(-57) scale(0.9,1)">IV-A</text>
<text class="s" style="stroke-width:.55px" font-size="13.8" transform="translate(398.25,402.25) rotate(-57) scale(0.9,1)">IV-D2</text>
<text class="s" style="stroke-width:.55px" font-size="13.8" transform="translate(434.55,402.25) rotate(-57) scale(0.9,1)">ET-P</text>
<text class="s" style="stroke-width:.55px" font-size="13.8" transform="translate(464.3,402.25) rotate(-57) scale(0.9,1)">N</text>
<text class="s" font-size="14" text-anchor="middle" transform="translate(309,676) scale(0.965,1)">810V</text>
<text class="s" font-size="14" text-anchor="middle" transform="translate(380.5,676) scale(0.965,1)">810C</text>
<text class="s" font-size="14" text-anchor="middle" transform="translate(448,676) scale(0.965,1)">810R</text>
<g>
<rect x="495" y="468.5" width="199.5" height="0.8" fill="#f1f1f1"/>
<rect x="495" y="531.2" width="199.5" height="0.8" fill="#f1f1f1"/>
<rect x="495" y="593.9" width="199.5" height="0.8" fill="#f1f1f1"/>
<rect x="500.2" y="406.2" width="26.9" height="5.42" fill="#A6F8FA"/>
<rect x="500.2" y="411.47" width="26.9" height="18.21" fill="#F28CF6"/>
<rect x="500.2" y="429.52" width="26.9" height="148.12" fill="#E2DCFC"/>
<rect x="500.2" y="577.5" width="26.9" height="58.84" fill="#649B68"/>
<rect x="500.2" y="636.18" width="26.9" height="8.18" fill="#8FA7FA"/>
<rect x="500.2" y="644.21" width="26.9" height="2.16" fill="#5C93FA"/>
<rect x="500.2" y="646.22" width="26.9" height="7.42" fill="#DC3C40"/>
<rect x="500.2" y="653.49" width="26.9" height="2.41" fill="#F0868A"/>
<rect x="500.2" y="655.75" width="26.9" height="1.4" fill="#EA8CC8"/>
<rect x="530.3" y="406.2" width="26.7" height="10.96" fill="#E3BDB3"/>
<rect x="530.3" y="417.01" width="26.7" height="6.18" fill="#A6F8FA"/>
<rect x="530.3" y="423.04" width="26.7" height="2.66" fill="#F28CF6"/>
<rect x="530.3" y="425.55" width="26.7" height="147.66" fill="#E2DCFC"/>
<rect x="530.3" y="573.06" width="26.7" height="6.18" fill="#649B68"/>
<rect x="530.3" y="579.1" width="26.7" height="5.43" fill="#86FCFA"/>
<rect x="530.3" y="584.37" width="26.7" height="5.43" fill="#8FA7FA"/>
<rect x="530.3" y="589.65" width="26.7" height="4.92" fill="url(#gr)"/>
<rect x="543.15" y="589.65" width="1" height="4.77" fill="#E8EBED" opacity=".55"/>
<rect x="530.3" y="594.43" width="26.7" height="34.83" fill="#DC3C40"/>
<rect x="530.3" y="629.11" width="26.7" height="7.44" fill="#F0868A"/>
<rect x="530.3" y="636.39" width="26.7" height="2.66" fill="#C0409C"/>
<rect x="530.3" y="638.91" width="26.7" height="2.66" fill="#EA8CC8"/>
<rect x="530.3" y="641.42" width="26.7" height="4.92" fill="#7A1C60"/>
<rect x="530.3" y="646.19" width="26.7" height="10.96" fill="#F4D6E6"/>
<rect x="563.1" y="406.2" width="28.6" height="9.7" fill="#A6F8FA"/>
<rect x="563.1" y="415.75" width="28.6" height="13.97" fill="#F28CF6"/>
<rect x="563.1" y="429.57" width="28.6" height="179.08" fill="#E2DCFC"/>
<rect x="563.1" y="608.5" width="28.6" height="37.59" fill="#649B68"/>
<rect x="563.1" y="645.94" width="28.6" height="2.66" fill="#8FA7FA"/>
<rect x="563.1" y="650.47" width="28.6" height="5.18" fill="#DC3C40"/>
<rect x="563.1" y="655.49" width="28.6" height="1.66" fill="#F0868A"/>
<rect x="594.9" y="406.2" width="28" height="22.29" fill="#E3BDB3"/>
<rect x="594.9" y="428.34" width="28" height="25.05" fill="#A6F8FA"/>
<rect x="594.9" y="453.24" width="28" height="5.18" fill="#F28CF6"/>
<rect x="594.9" y="458.27" width="28" height="150.08" fill="#E2DCFC"/>
<rect x="594.9" y="608.2" width="28" height="1.91" fill="#649B68"/>
<rect x="594.9" y="609.96" width="28" height="2.67" fill="#86FCFA"/>
<rect x="594.9" y="612.47" width="28" height="2.16" fill="#8FA7FA"/>
<rect x="594.9" y="614.49" width="28" height="4.17" fill="url(#gr)"/>
<rect x="608.4" y="614.49" width="1" height="4.02" fill="#E8EBED" opacity=".55"/>
<rect x="594.9" y="618.51" width="28" height="15.24" fill="#DC3C40"/>
<rect x="594.9" y="633.61" width="28" height="3.67" fill="#F0868A"/>
<rect x="594.9" y="637.13" width="28" height="2.67" fill="#C0409C"/>
<rect x="594.9" y="640.15" width="28" height="4.17" fill="#7A1C60"/>
<rect x="594.9" y="644.67" width="28" height="12.48" fill="#F4D6E6"/>
<rect x="632.2" y="406.2" width="26.1" height="12.45" fill="#7DD3F6"/>
<rect x="632.2" y="418.5" width="26.1" height="31.78" fill="#62658F"/>
<rect x="632.2" y="450.13" width="26.1" height="6.93" fill="#EA9428"/>
<rect x="632.2" y="456.91" width="26.1" height="9.69" fill="#7C4520"/>
<rect x="632.2" y="466.45" width="26.1" height="20.74" fill="#F28CF6"/>
<rect x="632.2" y="487.04" width="26.1" height="1.41" fill="#EA9557"/>
<rect x="632.2" y="488.29" width="26.1" height="14.21" fill="#E2DCFC"/>
<rect x="632.2" y="502.35" width="26.1" height="9.19" fill="#649B68"/>
<rect x="632.2" y="511.39" width="26.1" height="114.88" fill="url(#gr)"/>
<rect x="644.75" y="511.39" width="1" height="114.73" fill="#E8EBED" opacity=".55"/>
<rect x="632.2" y="626.12" width="26.1" height="21.49" fill="#872A78"/>
<rect x="632.2" y="647.46" width="26.1" height="9.69" fill="#4A30E0"/>
<rect x="661" y="406.2" width="26.1" height="4.92" fill="#EA9557"/>
<rect x="661" y="410.97" width="26.1" height="14.71" fill="#E2DCFC"/>
<rect x="661" y="425.53" width="26.1" height="10.95" fill="#649B68"/>
<rect x="661" y="436.33" width="26.1" height="0.9" fill="#6676F6"/>
<rect x="661" y="437.08" width="26.1" height="186.68" fill="url(#gr)"/>
<rect x="673.55" y="437.08" width="1" height="186.53" fill="#E8EBED" opacity=".55"/>
<rect x="661" y="623.61" width="26.1" height="3.16" fill="#62A5DA"/>
<rect x="661" y="626.62" width="26.1" height="1.41" fill="#DF5C64"/>
<rect x="661" y="627.88" width="26.1" height="5.42" fill="#F3A6DA"/>
<rect x="661" y="633.15" width="26.1" height="2.66" fill="#F6E0DA"/>
<rect x="661" y="635.66" width="26.1" height="21.49" fill="#F4D6E6"/>
<rect x="496.05" y="404.3" width="197.4" height="253.15" fill="none" stroke="#000" stroke-width="2.1"/>
<rect x="627.6" y="405.25" width="3" height="251.25" fill="#c9c9c9"/>
<rect x="558.55" y="402.65" width="2.1" height="255.85" fill="#000"/>
<rect x="625.45" y="402.65" width="2.1" height="255.85" fill="#000"/>
</g>
<text class="s" style="stroke-width:.55px" font-size="13.8" transform="translate(516.25,402.25) rotate(-57) scale(0.9,1)">IV-B</text>
<text class="s" style="stroke-width:.55px" font-size="13.8" transform="translate(546.25,402.25) rotate(-57) scale(0.9,1)">IV-D1</text>
<text class="s" style="stroke-width:.55px" font-size="13.8" transform="translate(580,402.25) rotate(-57) scale(0.9,1)">IV-D2</text>
<text class="s" style="stroke-width:.55px" font-size="13.8" transform="translate(611.5,402.25) rotate(-57) scale(0.9,1)">IV-B</text>
<text class="s" style="stroke-width:.55px" font-size="13.8" transform="translate(647.85,402.25) rotate(-57) scale(0.9,1)">N</text>
<text class="s" style="stroke-width:.55px" font-size="13.8" transform="translate(676.65,402.25) rotate(-57) scale(0.9,1)">ET-P</text>
<text class="s" font-size="14" text-anchor="middle" transform="translate(529,676) scale(0.965,1)">827V</text>
<text class="s" font-size="14" text-anchor="middle" transform="translate(590.8,676) scale(0.965,1)">827C</text>
<text class="s" font-size="14" text-anchor="middle" transform="translate(658.7,676) scale(0.965,1)">827R</text>
<g>
<rect x="708" y="468.32" width="201.5" height="0.8" fill="#f1f1f1"/>
<rect x="708" y="530.85" width="201.5" height="0.8" fill="#f1f1f1"/>
<rect x="708" y="593.38" width="201.5" height="0.8" fill="#f1f1f1"/>
<rect x="712.3" y="406.2" width="27.5" height="10.9" fill="#A6F8FA"/>
<rect x="712.3" y="416.95" width="27.5" height="1.15" fill="#F28CF6"/>
<rect x="712.3" y="417.95" width="27.5" height="65.68" fill="#E2DCFC"/>
<rect x="712.3" y="483.48" width="27.5" height="166.72" fill="#649B68"/>
<rect x="712.3" y="650.05" width="27.5" height="1.4" fill="#86FCFA"/>
<rect x="712.3" y="651.3" width="27.5" height="4.4" fill="url(#gr)"/>
<rect x="725.55" y="651.3" width="1" height="4.25" fill="#E8EBED" opacity=".55"/>
<rect x="712.3" y="655.55" width="27.5" height="0.9" fill="#DF5C64"/>
<rect x="743.5" y="406.7" width="27.5" height="1.15" fill="#F28CF6"/>
<rect x="743.5" y="407.7" width="27.5" height="43.87" fill="#E2DCFC"/>
<rect x="743.5" y="451.42" width="27.5" height="205.03" fill="#649B68"/>
<rect x="780.9" y="406.2" width="25.6" height="43.21" fill="#A6F8FA"/>
<rect x="780.9" y="449.26" width="25.6" height="57.98" fill="#EF2D8C"/>
<rect x="780.9" y="507.09" width="25.6" height="106.8" fill="#E2DCFC"/>
<rect x="780.9" y="613.74" width="25.6" height="31.69" fill="#649B68"/>
<rect x="780.9" y="645.28" width="25.6" height="1.65" fill="#86FCFA"/>
<rect x="780.9" y="646.79" width="25.6" height="8.41" fill="url(#gr)"/>
<rect x="793.2" y="646.79" width="1" height="8.26" fill="#E8EBED" opacity=".55"/>
<rect x="780.9" y="655.05" width="25.6" height="1.4" fill="#DF5C64"/>
<rect x="809.7" y="406.7" width="25.3" height="1.65" fill="#F28CF6"/>
<rect x="809.7" y="408.2" width="25.3" height="2.66" fill="#E2DCFC"/>
<rect x="809.7" y="410.71" width="25.3" height="244.49" fill="#649B68"/>
<rect x="846.2" y="406.2" width="26.7" height="3.64" fill="#EA9557"/>
<rect x="846.2" y="409.69" width="26.7" height="157.15" fill="url(#gr)"/>
<rect x="859.05" y="409.69" width="1" height="157" fill="#E8EBED" opacity=".55"/>
<rect x="846.2" y="566.69" width="26.7" height="28.6" fill="#3F7ED0"/>
<rect x="846.2" y="595.15" width="26.7" height="8.14" fill="#6676F6"/>
<rect x="846.2" y="603.14" width="26.7" height="8.64" fill="#6E1A12"/>
<rect x="846.2" y="611.62" width="26.7" height="32.85" fill="#F3A6DA"/>
<rect x="846.2" y="644.32" width="26.7" height="2.9" fill="#F6E0DA"/>
<rect x="846.2" y="647.06" width="26.7" height="9.39" fill="#EA8CC8"/>
<rect x="876.3" y="406.2" width="27.2" height="1.15" fill="#EA9557"/>
<rect x="876.3" y="407.2" width="27.2" height="57.56" fill="#649B68"/>
<rect x="876.3" y="464.61" width="27.2" height="99.49" fill="url(#gr)"/>
<rect x="889.4" y="464.61" width="1" height="99.34" fill="#E8EBED" opacity=".55"/>
<rect x="876.3" y="563.95" width="27.2" height="6.64" fill="#3F7ED0"/>
<rect x="876.3" y="570.44" width="27.2" height="4.14" fill="#6676F6"/>
<rect x="876.3" y="574.43" width="27.2" height="2.4" fill="#6E1A12"/>
<rect x="876.3" y="576.68" width="27.2" height="4.64" fill="#DF5C64"/>
<rect x="876.3" y="581.17" width="27.2" height="45.33" fill="#F3A6DA"/>
<rect x="876.3" y="626.35" width="27.2" height="9.63" fill="#F6E0DA"/>
<rect x="876.3" y="635.83" width="27.2" height="3.39" fill="#EA8CC8"/>
<rect x="876.3" y="639.08" width="27.2" height="17.37" fill="#C09A2C"/>
<rect x="709.05" y="404.3" width="199.4" height="252.45" fill="none" stroke="#000" stroke-width="2.1"/>
<rect x="775.55" y="402.65" width="2.1" height="255.15" fill="#000"/>
<rect x="840.55" y="402.65" width="2.1" height="255.15" fill="#000"/>
</g>
<text class="s" style="stroke-width:.55px" font-size="13.8" transform="translate(728.65,402.25) rotate(-57) scale(0.9,1)">III-B</text>
<text class="s" style="stroke-width:.55px" font-size="13.8" transform="translate(759.85,402.25) rotate(-57) scale(0.9,1)">III-A</text>
<text class="s" style="stroke-width:.55px" font-size="13.8" transform="translate(796.3,402.25) rotate(-57) scale(0.9,1)">IV-B</text>
<text class="s" style="stroke-width:.55px" font-size="13.8" transform="translate(824.95,402.25) rotate(-57) scale(0.9,1)">III-A</text>
<text class="s" style="stroke-width:.55px" font-size="13.8" transform="translate(862.15,402.25) rotate(-57) scale(0.9,1)">ET-P</text>
<text class="s" style="stroke-width:.55px" font-size="13.8" transform="translate(892.5,402.25) rotate(-57) scale(0.9,1)">ET-P</text>
<text class="s" font-size="14" text-anchor="middle" transform="translate(739.7,676) scale(0.965,1)">929V</text>
<text class="s" font-size="14" text-anchor="middle" transform="translate(808.3,676) scale(0.965,1)">929C</text>
<text class="s" font-size="14" text-anchor="middle" transform="translate(874.8,676) scale(0.965,1)">929R</text>
<g>
<rect x="922.5" y="467.95" width="200.75" height="0.8" fill="#f1f1f1"/>
<rect x="922.5" y="530.6" width="200.75" height="0.8" fill="#f1f1f1"/>
<rect x="922.5" y="593.25" width="200.75" height="0.8" fill="#f1f1f1"/>
<rect x="926" y="405.7" width="27.2" height="66.31" fill="#E2DCFC"/>
<rect x="926" y="471.86" width="27.2" height="12.68" fill="#84FD82"/>
<rect x="926" y="484.39" width="27.2" height="172.06" fill="#649B68"/>
<rect x="957.2" y="405.7" width="27.5" height="2.16" fill="#E2DCFC"/>
<rect x="957.2" y="407.71" width="27.5" height="163.96" fill="#84FD82"/>
<rect x="957.2" y="571.51" width="27.5" height="84.94" fill="#649B68"/>
<rect x="994.5" y="405.7" width="28.8" height="93.87" fill="#EF2D8C"/>
<rect x="994.5" y="499.42" width="28.8" height="88.11" fill="#E2DCFC"/>
<rect x="994.5" y="587.38" width="28.8" height="20.2" fill="#84FD82"/>
<rect x="994.5" y="607.43" width="28.8" height="49.02" fill="#649B68"/>
<rect x="1027.3" y="405.7" width="28" height="210.15" fill="#84FD82"/>
<rect x="1027.3" y="615.7" width="28" height="40.75" fill="#649B68"/>
<rect x="1060.1" y="405.7" width="28.6" height="5.42" fill="#EA9557"/>
<rect x="1060.1" y="410.97" width="28.6" height="48.11" fill="#E2DCFC"/>
<rect x="1060.1" y="458.93" width="28.6" height="106.12" fill="#649B68"/>
<rect x="1060.1" y="564.9" width="28.6" height="67.19" fill="url(#gr)"/>
<rect x="1073.9" y="564.9" width="1" height="67.04" fill="#E8EBED" opacity=".55"/>
<rect x="1060.1" y="631.94" width="28.6" height="1.41" fill="#62A5DA"/>
<rect x="1060.1" y="634.96" width="28.6" height="21.49" fill="#C09A2C"/>
<rect x="1092.1" y="405.7" width="29.4" height="2.66" fill="#F660F6"/>
<rect x="1092.1" y="408.21" width="29.4" height="5.43" fill="#7DD3F6"/>
<rect x="1092.1" y="413.49" width="29.4" height="2.66" fill="#F28CF6"/>
<rect x="1092.1" y="416.01" width="29.4" height="2.16" fill="#EA9557"/>
<rect x="1092.1" y="418.02" width="29.4" height="1.91" fill="#5EDC7C"/>
<rect x="1092.1" y="419.78" width="29.4" height="50.17" fill="url(#gr)"/>
<rect x="1106.3" y="419.78" width="1" height="50.02" fill="#E8EBED" opacity=".55"/>
<rect x="1092.1" y="469.8" width="29.4" height="6.18" fill="#3F7ED0"/>
<rect x="1092.1" y="475.83" width="29.4" height="26.79" fill="#6E1A12"/>
<rect x="1092.1" y="502.47" width="29.4" height="3.42" fill="#DF5C64"/>
<rect x="1092.1" y="505.74" width="29.4" height="97.17" fill="#F3A6DA"/>
<rect x="1092.1" y="602.76" width="29.4" height="45.14" fill="#EA8CC8"/>
<rect x="1092.1" y="647.75" width="29.4" height="1.41" fill="#6676F6"/>
<rect x="1092.1" y="649.01" width="29.4" height="7.44" fill="#C09A2C"/>
<rect x="923.55" y="404.3" width="198.65" height="252.45" fill="none" stroke="#000" stroke-width="2.1"/>
<rect x="989.2" y="402.65" width="2.1" height="255.15" fill="#000"/>
<rect x="1056.2" y="402.65" width="2.1" height="255.15" fill="#000"/>
</g>
<text class="s" style="stroke-width:.55px" font-size="13.8" transform="translate(942.2,402.25) rotate(-57) scale(0.9,1)">III-B</text>
<text class="s" style="stroke-width:.55px" font-size="13.8" transform="translate(973.55,402.25) rotate(-57) scale(0.9,1)">I-B</text>
<text class="s" style="stroke-width:.55px" font-size="13.8" transform="translate(1011.5,402.25) rotate(-57) scale(0.9,1)">IV-B</text>
<text class="s" style="stroke-width:.55px" font-size="13.8" transform="translate(1043.9,402.25) rotate(-57) scale(0.9,1)">I-B</text>
<text class="s" style="stroke-width:.55px" font-size="13.8" transform="translate(1077,402.25) rotate(-57) scale(0.9,1)">N</text>
<text class="s" style="stroke-width:.55px" font-size="13.8" transform="translate(1109.4,402.25) rotate(-57) scale(0.9,1)">ET-P</text>
<text class="s" font-size="14" text-anchor="middle" transform="translate(953.6,673.6) scale(0.965,1)">978V</text>
<text class="s" font-size="14" text-anchor="middle" transform="translate(1024.3,675.3) scale(0.965,1)">978C</text>
<text class="s" font-size="14" text-anchor="middle" transform="translate(1088.3,675.3) scale(0.965,1)">978R</text>
<g>
<rect x="1138" y="467.95" width="210.75" height="0.8" fill="#f1f1f1"/>
<rect x="1138" y="530.6" width="210.75" height="0.8" fill="#f1f1f1"/>
<rect x="1138" y="593.25" width="210.75" height="0.8" fill="#f1f1f1"/>
<rect x="1141" y="405.7" width="28.8" height="4.17" fill="#A6F8FA"/>
<rect x="1141" y="409.72" width="28.8" height="1.15" fill="#F28CF6"/>
<rect x="1141" y="410.72" width="28.8" height="192.75" fill="#E2DCFC"/>
<rect x="1141" y="603.32" width="28.8" height="6.18" fill="#649B68"/>
<rect x="1141" y="609.34" width="28.8" height="7.93" fill="#8FA7FA"/>
<rect x="1141" y="617.13" width="28.8" height="1.66" fill="#5C93FA"/>
<rect x="1141" y="619.89" width="28.8" height="16.72" fill="#DC3C40"/>
<rect x="1141" y="636.46" width="28.8" height="1.41" fill="#F0868A"/>
<rect x="1141" y="637.72" width="28.8" height="4.17" fill="#C0409C"/>
<rect x="1141" y="641.74" width="28.8" height="5.42" fill="#EA8CC8"/>
<rect x="1141" y="647.01" width="28.8" height="9.44" fill="#F4D6E6"/>
<rect x="1173.5" y="405.7" width="28.8" height="4.16" fill="#A6F8FA"/>
<rect x="1173.5" y="409.71" width="28.8" height="0.9" fill="#F28CF6"/>
<rect x="1173.5" y="410.47" width="28.8" height="90.21" fill="#E2DCFC"/>
<rect x="1173.5" y="500.52" width="28.8" height="1.4" fill="#649B68"/>
<rect x="1173.5" y="501.78" width="28.8" height="49.57" fill="#86FCFA"/>
<rect x="1173.5" y="551.19" width="28.8" height="4.16" fill="#8FA7FA"/>
<rect x="1173.5" y="555.21" width="28.8" height="5.92" fill="url(#gr)"/>
<rect x="1187.4" y="555.21" width="1" height="5.77" fill="#E8EBED" opacity=".55"/>
<rect x="1173.5" y="560.98" width="28.8" height="1.4" fill="#6676F6"/>
<rect x="1173.5" y="562.23" width="28.8" height="33.01" fill="#DC3C40"/>
<rect x="1173.5" y="595.09" width="28.8" height="5.42" fill="#F0868A"/>
<rect x="1173.5" y="600.36" width="28.8" height="1.4" fill="#F6E0DA"/>
<rect x="1173.5" y="601.61" width="28.8" height="3.41" fill="#C0409C"/>
<rect x="1173.5" y="604.88" width="28.8" height="22.73" fill="#EA8CC8"/>
<rect x="1173.5" y="627.45" width="28.8" height="17.46" fill="#7A1C60"/>
<rect x="1173.5" y="644.76" width="28.8" height="4.41" fill="#F4D6E6"/>
<rect x="1173.5" y="649.03" width="28.8" height="7.42" fill="#C6A8B6"/>
<rect x="1210.9" y="405.7" width="30.1" height="1.15" fill="#E3BDB3"/>
<rect x="1210.9" y="406.7" width="30.1" height="8.94" fill="#A6F8FA"/>
<rect x="1210.9" y="415.49" width="30.1" height="1.15" fill="#F28CF6"/>
<rect x="1210.9" y="416.5" width="30.1" height="200.28" fill="#E2DCFC"/>
<rect x="1210.9" y="616.63" width="30.1" height="1.91" fill="#649B68"/>
<rect x="1210.9" y="618.38" width="30.1" height="3.16" fill="#8FA7FA"/>
<rect x="1210.9" y="623.41" width="30.1" height="18.48" fill="#DC3C40"/>
<rect x="1210.9" y="641.74" width="30.1" height="2.66" fill="#C0409C"/>
<rect x="1210.9" y="644.25" width="30.1" height="4.67" fill="#EA8CC8"/>
<rect x="1210.9" y="648.77" width="30.1" height="7.68" fill="#F4D6E6"/>
<rect x="1244.2" y="405.7" width="26.9" height="1.91" fill="#E3BDB3"/>
<rect x="1244.2" y="407.46" width="26.9" height="7.69" fill="#A6F8FA"/>
<rect x="1244.2" y="415" width="26.9" height="1.16" fill="#F28CF6"/>
<rect x="1244.2" y="416.01" width="26.9" height="103.21" fill="#E2DCFC"/>
<rect x="1244.2" y="519.06" width="26.9" height="1.91" fill="#649B68"/>
<rect x="1244.2" y="520.82" width="26.9" height="42.38" fill="#86FCFA"/>
<rect x="1244.2" y="563.05" width="26.9" height="2.66" fill="#8FA7FA"/>
<rect x="1244.2" y="565.56" width="26.9" height="10.96" fill="url(#gr)"/>
<rect x="1257.15" y="565.56" width="1" height="10.81" fill="#E8EBED" opacity=".55"/>
<rect x="1244.2" y="576.37" width="26.9" height="1.41" fill="#F0F6C0"/>
<rect x="1244.2" y="577.63" width="26.9" height="4.17" fill="#6676F6"/>
<rect x="1244.2" y="581.65" width="26.9" height="12.72" fill="#DC3C40"/>
<rect x="1244.2" y="594.22" width="26.9" height="6.18" fill="#F0868A"/>
<rect x="1244.2" y="600.75" width="26.9" height="2.16" fill="#C0409C"/>
<rect x="1244.2" y="602.76" width="26.9" height="25.03" fill="#EA8CC8"/>
<rect x="1244.2" y="627.65" width="26.9" height="23.53" fill="#7A1C60"/>
<rect x="1244.2" y="651.02" width="26.9" height="5.43" fill="#C6A8B6"/>
<rect x="1276.2" y="405.7" width="34.3" height="3.41" fill="#7DD3F6"/>
<rect x="1276.2" y="410.22" width="34.3" height="3.16" fill="#7C4520"/>
<rect x="1276.2" y="413.23" width="34.3" height="5.93" fill="#F28CF6"/>
<rect x="1276.2" y="419.01" width="34.3" height="2.66" fill="#EA9557"/>
<rect x="1276.2" y="421.52" width="34.3" height="87.03" fill="#E2DCFC"/>
<rect x="1276.2" y="508.4" width="34.3" height="1.66" fill="#649B68"/>
<rect x="1276.2" y="509.91" width="34.3" height="96.07" fill="url(#gr)"/>
<rect x="1292.85" y="509.91" width="1" height="95.92" fill="#E8EBED" opacity=".55"/>
<rect x="1276.2" y="605.83" width="34.3" height="11.7" fill="#3F7ED0"/>
<rect x="1276.2" y="617.38" width="34.3" height="1.15" fill="#6E1A12"/>
<rect x="1276.2" y="618.38" width="34.3" height="4.92" fill="#872A78"/>
<rect x="1276.2" y="623.15" width="34.3" height="22.75" fill="#F3A6DA"/>
<rect x="1276.2" y="645.75" width="34.3" height="5.42" fill="#EA8CC8"/>
<rect x="1276.2" y="651.03" width="34.3" height="1.91" fill="#4A30E0"/>
<rect x="1276.2" y="652.78" width="34.3" height="3.67" fill="#F4D6E6"/>
<rect x="1314.3" y="405.7" width="32.4" height="3.65" fill="#62658F"/>
<rect x="1314.3" y="409.2" width="32.4" height="37.95" fill="#EA9428"/>
<rect x="1314.3" y="447.01" width="32.4" height="11.67" fill="#7C4520"/>
<rect x="1314.3" y="458.52" width="32.4" height="11.92" fill="#F28CF6"/>
<rect x="1314.3" y="470.29" width="32.4" height="1.65" fill="#EA9557"/>
<rect x="1314.3" y="471.79" width="32.4" height="90.53" fill="url(#gr)"/>
<rect x="1330" y="471.79" width="1" height="90.38" fill="#E8EBED" opacity=".55"/>
<rect x="1314.3" y="562.17" width="32.4" height="16.42" fill="#3F7ED0"/>
<rect x="1314.3" y="578.44" width="32.4" height="0.9" fill="#DF5C64"/>
<rect x="1314.3" y="579.19" width="32.4" height="45.21" fill="#F3A6DA"/>
<rect x="1314.3" y="624.26" width="32.4" height="7.41" fill="#F6E0DA"/>
<rect x="1314.3" y="631.52" width="32.4" height="9.41" fill="#EA8CC8"/>
<rect x="1314.3" y="640.78" width="32.4" height="15.67" fill="#4A30E0"/>
<rect x="1139.05" y="404.8" width="208.65" height="251.95" fill="none" stroke="#000" stroke-width="2.1"/>
<rect x="1206.2" y="403.15" width="2.1" height="254.65" fill="#000"/>
<rect x="1272.45" y="403.15" width="2.1" height="254.65" fill="#000"/>
</g>
<text class="s" style="stroke-width:.55px" font-size="13.8" transform="translate(1158,402.75) rotate(-57) scale(0.9,1)">IV-D1</text>
<text class="s" style="stroke-width:.55px" font-size="13.8" transform="translate(1190.5,402.75) rotate(-57) scale(0.9,1)">IV-B</text>
<text class="s" style="stroke-width:.55px" font-size="13.8" transform="translate(1228.55,402.75) rotate(-57) scale(0.9,1)">IV-D0</text>
<text class="s" style="stroke-width:.55px" font-size="13.8" transform="translate(1260.25,402.75) rotate(-57) scale(0.9,1)">IV-B</text>
<text class="s" style="stroke-width:.55px" font-size="13.8" transform="translate(1295.95,402.75) rotate(-57) scale(0.9,1)">N</text>
<text class="s" style="stroke-width:.55px" font-size="13.8" transform="translate(1333.1,402.75) rotate(-57) scale(0.9,1)">ET-P</text>
<text class="s" font-size="14" text-anchor="middle" transform="translate(1174.1,675.1) scale(0.965,1)">1116V</text>
<text class="s" font-size="14" text-anchor="middle" transform="translate(1243.7,675.1) scale(0.965,1)">1116C</text>
<text class="s" font-size="14" text-anchor="middle" transform="translate(1316.5,675.1) scale(0.965,1)">1116R</text>
<g>
<rect x="61.75" y="801.9" width="203.5" height="0.8" fill="#f1f1f1"/>
<rect x="61.75" y="865.3" width="203.5" height="0.8" fill="#f1f1f1"/>
<rect x="61.75" y="928.7" width="203.5" height="0.8" fill="#f1f1f1"/>
<rect x="65.2" y="738.9" width="28.8" height="1.67" fill="#A6F8FA"/>
<rect x="65.2" y="740.42" width="28.8" height="86.88" fill="#E2DCFC"/>
<rect x="65.2" y="827.15" width="28.8" height="2.69" fill="#8FA7FA"/>
<rect x="65.2" y="829.69" width="28.8" height="4.46" fill="#9A50FA"/>
<rect x="65.2" y="834" width="28.8" height="4.71" fill="url(#gr)"/>
<rect x="79.1" y="834" width="1" height="4.56" fill="#E8EBED" opacity=".55"/>
<rect x="65.2" y="838.56" width="28.8" height="2.18" fill="#DC3C40"/>
<rect x="65.2" y="840.59" width="28.8" height="1.16" fill="#F6E0DA"/>
<rect x="65.2" y="841.61" width="28.8" height="2.18" fill="#DF5C64"/>
<rect x="65.2" y="843.64" width="28.8" height="3.45" fill="#F0868A"/>
<rect x="65.2" y="846.93" width="28.8" height="30.84" fill="#F6E0DA"/>
<rect x="65.2" y="877.62" width="28.8" height="67.1" fill="#C0409C"/>
<rect x="65.2" y="944.57" width="28.8" height="5.48" fill="#EA8CC8"/>
<rect x="65.2" y="949.9" width="28.8" height="42.75" fill="#F4D6E6"/>
<rect x="98" y="738.9" width="29.3" height="7.01" fill="#A6F8FA"/>
<rect x="98" y="745.76" width="29.3" height="1.17" fill="#F28CF6"/>
<rect x="98" y="746.78" width="29.3" height="159.22" fill="#E2DCFC"/>
<rect x="98" y="905.85" width="29.3" height="2.18" fill="#649B68"/>
<rect x="98" y="908.39" width="29.3" height="1.67" fill="#9A50FA"/>
<rect x="98" y="909.91" width="29.3" height="5.23" fill="url(#gr)"/>
<rect x="112.15" y="909.91" width="1" height="5.08" fill="#E8EBED" opacity=".55"/>
<rect x="98" y="915" width="29.3" height="2.69" fill="#DC3C40"/>
<rect x="98" y="917.54" width="29.3" height="2.18" fill="#DF5C64"/>
<rect x="98" y="919.57" width="29.3" height="3.45" fill="#F6E0DA"/>
<rect x="98" y="922.87" width="29.3" height="59.1" fill="#F682C4"/>
<rect x="98" y="981.83" width="29.3" height="1.93" fill="#C0409C"/>
<rect x="98" y="983.61" width="29.3" height="2.18" fill="#EA8CC8"/>
<rect x="98" y="985.64" width="29.3" height="3.45" fill="#F4D6E6"/>
<rect x="98" y="988.94" width="29.3" height="3.71" fill="#C6A8B6"/>
<rect x="134" y="738.9" width="28.5" height="7.51" fill="#E3BDB3"/>
<rect x="134" y="746.26" width="28.5" height="32.64" fill="#A6F8FA"/>
<rect x="134" y="778.76" width="28.5" height="9.8" fill="#EF2D8C"/>
<rect x="134" y="788.4" width="28.5" height="158.3" fill="#E2DCFC"/>
<rect x="134" y="946.55" width="28.5" height="1.67" fill="#649B68"/>
<rect x="134" y="948.08" width="28.5" height="1.93" fill="#C5E8F8"/>
<rect x="134" y="949.85" width="28.5" height="8.27" fill="url(#gr)"/>
<rect x="147.75" y="949.85" width="1" height="8.12" fill="#E8EBED" opacity=".55"/>
<rect x="134" y="957.98" width="28.5" height="2.69" fill="#DF5C64"/>
<rect x="134" y="960.51" width="28.5" height="1.42" fill="#F0868A"/>
<rect x="134" y="961.78" width="28.5" height="7.51" fill="#C0409C"/>
<rect x="134" y="969.15" width="28.5" height="2.69" fill="#EA8CC8"/>
<rect x="134" y="971.68" width="28.5" height="20.97" fill="#F4D6E6"/>
<rect x="166" y="738.9" width="28.5" height="4.2" fill="#A6F8FA"/>
<rect x="166" y="742.95" width="28.5" height="13.58" fill="#EF2D8C"/>
<rect x="166" y="756.38" width="28.5" height="47.02" fill="#E2DCFC"/>
<rect x="166" y="803.25" width="28.5" height="3.95" fill="#649B68"/>
<rect x="166" y="807.05" width="28.5" height="1.16" fill="#86FCFA"/>
<rect x="166" y="808.06" width="28.5" height="24.47" fill="url(#gr)"/>
<rect x="179.75" y="808.06" width="1" height="24.32" fill="#E8EBED" opacity=".55"/>
<rect x="166" y="832.38" width="28.5" height="4.46" fill="#DC3C40"/>
<rect x="166" y="836.69" width="28.5" height="4.71" fill="#DF5C64"/>
<rect x="166" y="841.25" width="28.5" height="1.92" fill="#F0868A"/>
<rect x="166" y="843.03" width="28.5" height="128.34" fill="#F682C4"/>
<rect x="166" y="971.22" width="28.5" height="2.68" fill="#C0409C"/>
<rect x="166" y="973.75" width="28.5" height="4.71" fill="#EA8CC8"/>
<rect x="166" y="978.31" width="28.5" height="8.26" fill="#F4D6E6"/>
<rect x="166" y="986.42" width="28.5" height="6.23" fill="#C6A8B6"/>
<rect x="201.2" y="738.9" width="28.8" height="66.85" fill="#A6F8FA"/>
<rect x="201.2" y="805.6" width="28.8" height="54.17" fill="#E2DCFC"/>
<rect x="201.2" y="859.61" width="28.8" height="1.42" fill="#649B68"/>
<rect x="201.2" y="860.88" width="28.8" height="25.51" fill="#86FCFA"/>
<rect x="201.2" y="886.24" width="28.8" height="25.51" fill="url(#gr)"/>
<rect x="215.1" y="886.24" width="1" height="25.36" fill="#E8EBED" opacity=".55"/>
<rect x="201.2" y="911.6" width="28.8" height="55.69" fill="#DC3C40"/>
<rect x="201.2" y="968.15" width="28.8" height="24.5" fill="#F4D6E6"/>
<rect x="233.5" y="738.9" width="28.5" height="48.99" fill="#DE9C48"/>
<rect x="233.5" y="787.74" width="28.5" height="4.73" fill="#F660F6"/>
<rect x="233.5" y="792.32" width="28.5" height="10.32" fill="#7DD3F6"/>
<rect x="233.5" y="802.49" width="28.5" height="7.53" fill="#62658F"/>
<rect x="233.5" y="809.87" width="28.5" height="5.24" fill="#EA9428"/>
<rect x="233.5" y="814.95" width="28.5" height="7.53" fill="#3A5CD0"/>
<rect x="233.5" y="822.33" width="28.5" height="12.11" fill="#F28CF6"/>
<rect x="233.5" y="834.29" width="28.5" height="17.96" fill="#A4D65C"/>
<rect x="233.5" y="852.09" width="28.5" height="67.05" fill="url(#gr)"/>
<rect x="247.25" y="852.09" width="1" height="66.9" fill="#E8EBED" opacity=".55"/>
<rect x="233.5" y="918.99" width="28.5" height="10.32" fill="#7F6E4E"/>
<rect x="233.5" y="929.16" width="28.5" height="1.93" fill="#6676F6"/>
<rect x="233.5" y="930.94" width="28.5" height="1.68" fill="#C0409C"/>
<rect x="233.5" y="932.47" width="28.5" height="38.81" fill="#872A78"/>
<rect x="233.5" y="971.13" width="28.5" height="16.68" fill="#F3A6DA"/>
<rect x="233.5" y="987.67" width="28.5" height="4.98" fill="#F0FA40"/>
<rect x="62.8" y="737.8" width="201.4" height="255.95" fill="none" stroke="#000" stroke-width="2.1"/>
<rect x="129.2" y="736.15" width="2.1" height="258.65" fill="#000"/>
<rect x="197.45" y="736.15" width="2.1" height="258.65" fill="#000"/>
</g>
<text class="s" style="stroke-width:.55px" font-size="13.8" transform="translate(85.6,733.55) rotate(-57) scale(0.9,1)">IV-E</text>
<text class="s" style="stroke-width:.55px" font-size="13.8" transform="translate(113.15,733.55) rotate(-57) scale(0.9,1)">IV-B</text>
<text class="s" style="stroke-width:.55px" font-size="13.8" transform="translate(151.25,733.55) rotate(-57) scale(0.9,1)">IV-E</text>
<text class="s" style="stroke-width:.55px" font-size="13.8" transform="translate(180.75,733.55) rotate(-57) scale(0.9,1)">IV-B</text>
<text class="s" style="stroke-width:.55px" font-size="13.8" transform="translate(216.1,733.55) rotate(-57) scale(0.9,1)">ET-P</text>
<text class="s" style="stroke-width:.55px" font-size="13.8" transform="translate(248.25,733.55) rotate(-57) scale(0.9,1)">ET-P</text>
<text class="s" font-size="14" text-anchor="middle" transform="translate(90,1010.6) scale(0.965,1)">1040V</text>
<text class="s" font-size="14" text-anchor="middle" transform="translate(163.8,1010.6) scale(0.965,1)">1040C</text>
<text class="s" font-size="14" text-anchor="middle" transform="translate(232.4,1010.6) scale(0.965,1)">1040R</text>
<g>
<rect x="284.5" y="802.3" width="197" height="0.8" fill="#f1f1f1"/>
<rect x="284.5" y="865.3" width="197" height="0.8" fill="#f1f1f1"/>
<rect x="284.5" y="928.3" width="197" height="0.8" fill="#f1f1f1"/>
<rect x="287.3" y="739.7" width="28.6" height="99.44" fill="#E2DCFC"/>
<rect x="287.3" y="838.99" width="28.6" height="152.86" fill="#649B68"/>
<rect x="319.3" y="739.7" width="28.8" height="11.74" fill="#A6F8FA"/>
<rect x="319.3" y="751.29" width="28.8" height="1.16" fill="#F28CF6"/>
<rect x="319.3" y="752.3" width="28.8" height="116.32" fill="#E2DCFC"/>
<rect x="319.3" y="868.47" width="28.8" height="22.07" fill="#649B68"/>
<rect x="319.3" y="890.4" width="28.8" height="6.7" fill="#86FCFA"/>
<rect x="319.3" y="896.95" width="28.8" height="14.01" fill="#8FA7FA"/>
<rect x="319.3" y="910.81" width="28.8" height="6.2" fill="url(#gr)"/>
<rect x="333.2" y="910.81" width="1" height="6.05" fill="#E8EBED" opacity=".55"/>
<rect x="319.3" y="916.86" width="28.8" height="17.54" fill="#DC3C40"/>
<rect x="319.3" y="934.24" width="28.8" height="12.25" fill="#F0868A"/>
<rect x="319.3" y="946.34" width="28.8" height="14.26" fill="#EA8CC8"/>
<rect x="319.3" y="960.45" width="28.8" height="5.44" fill="#7A1C60"/>
<rect x="319.3" y="965.74" width="28.8" height="26.11" fill="#F4D6E6"/>
<rect x="352.1" y="739.7" width="28" height="19.34" fill="#A6F8FA"/>
<rect x="352.1" y="758.89" width="28" height="1.16" fill="#F28CF6"/>
<rect x="352.1" y="759.9" width="28" height="116.55" fill="#E2DCFC"/>
<rect x="352.1" y="876.31" width="28" height="1.41" fill="#649B68"/>
<rect x="352.1" y="877.57" width="28" height="32.47" fill="#86FCFA"/>
<rect x="352.1" y="909.89" width="28" height="5.96" fill="#8FA7FA"/>
<rect x="352.1" y="915.7" width="28" height="4.7" fill="url(#gr)"/>
<rect x="365.6" y="915.7" width="1" height="4.55" fill="#E8EBED" opacity=".55"/>
<rect x="352.1" y="920.24" width="28" height="3.69" fill="#9A2012"/>
<rect x="352.1" y="923.78" width="28" height="24.9" fill="#DC3C40"/>
<rect x="352.1" y="948.52" width="28" height="16.82" fill="#F0868A"/>
<rect x="352.1" y="965.19" width="28" height="2.17" fill="#C0409C"/>
<rect x="352.1" y="967.21" width="28" height="5.45" fill="#EA8CC8"/>
<rect x="352.1" y="972.51" width="28" height="4.7" fill="#7A1C60"/>
<rect x="352.1" y="977.81" width="28" height="14.04" fill="#F4D6E6"/>
<rect x="383.9" y="739.7" width="28.2" height="11.75" fill="#A6F8FA"/>
<rect x="383.9" y="751.3" width="28.2" height="1.92" fill="#EE6A90"/>
<rect x="383.9" y="753.07" width="28.2" height="137.12" fill="#E2DCFC"/>
<rect x="383.9" y="890.04" width="28.2" height="1.92" fill="#649B68"/>
<rect x="383.9" y="891.81" width="28.2" height="6.2" fill="#86FCFA"/>
<rect x="383.9" y="897.86" width="28.2" height="14.02" fill="#8FA7FA"/>
<rect x="383.9" y="911.74" width="28.2" height="4.69" fill="url(#gr)"/>
<rect x="397.5" y="911.74" width="1" height="4.54" fill="#E8EBED" opacity=".55"/>
<rect x="383.9" y="916.28" width="28.2" height="1.41" fill="#9A2012"/>
<rect x="383.9" y="917.54" width="28.2" height="13.01" fill="#DC3C40"/>
<rect x="383.9" y="930.4" width="28.2" height="12.76" fill="#F0868A"/>
<rect x="383.9" y="943.77" width="28.2" height="14.28" fill="#EA8CC8"/>
<rect x="383.9" y="957.9" width="28.2" height="5.2" fill="#7A1C60"/>
<rect x="383.9" y="963.7" width="28.2" height="28.15" fill="#F4D6E6"/>
<rect x="417.2" y="739.7" width="28" height="3.68" fill="#F660F6"/>
<rect x="417.2" y="743.74" width="28" height="7.72" fill="#EA9428"/>
<rect x="417.2" y="751.3" width="28" height="1.92" fill="#EE6A90"/>
<rect x="417.2" y="753.07" width="28" height="4.69" fill="#EA9557"/>
<rect x="417.2" y="758.37" width="28" height="6.71" fill="#E2DCFC"/>
<rect x="417.2" y="765.68" width="28" height="1.16" fill="#649B68"/>
<rect x="417.2" y="766.69" width="28" height="5.45" fill="#86FCFA"/>
<rect x="417.2" y="771.99" width="28" height="110.38" fill="url(#gr)"/>
<rect x="430.7" y="771.99" width="1" height="110.23" fill="#E8EBED" opacity=".55"/>
<rect x="417.2" y="882.22" width="28" height="10.74" fill="#7F6E4E"/>
<rect x="417.2" y="892.82" width="28" height="3.43" fill="#6676F6"/>
<rect x="417.2" y="896.1" width="28" height="8.22" fill="#DF5C64"/>
<rect x="417.2" y="904.17" width="28" height="55.65" fill="#F6E0DA"/>
<rect x="417.2" y="959.66" width="28" height="32.19" fill="#F4D6E6"/>
<rect x="448.7" y="739.7" width="28" height="64.98" fill="#A6F8FA"/>
<rect x="448.7" y="804.53" width="28" height="55.9" fill="#E2DCFC"/>
<rect x="448.7" y="860.28" width="28" height="1.41" fill="#649B68"/>
<rect x="448.7" y="861.54" width="28" height="26.38" fill="#86FCFA"/>
<rect x="448.7" y="887.77" width="28" height="23.61" fill="url(#gr)"/>
<rect x="462.2" y="887.77" width="1" height="23.46" fill="#E8EBED" opacity=".55"/>
<rect x="448.7" y="911.23" width="28" height="51.86" fill="#DC3C40"/>
<rect x="448.7" y="962.94" width="28" height="28.91" fill="#F4D6E6"/>
<rect x="285.55" y="737.8" width="194.9" height="255.65" fill="none" stroke="#000" stroke-width="2.1"/>
<rect x="349.45" y="736.15" width="2.1" height="258.35" fill="#000"/>
<rect x="414.95" y="736.15" width="2.1" height="258.35" fill="#000"/>
</g>
<text class="s" style="stroke-width:.55px" font-size="13.8" transform="translate(302.1,733.55) rotate(-57) scale(0.9,1)">III-B</text>
<text class="s" style="stroke-width:.55px" font-size="13.8" transform="translate(334.2,733.55) rotate(-57) scale(0.9,1)">IV-D</text>
<text class="s" style="stroke-width:.55px" font-size="13.8" transform="translate(366.6,733.55) rotate(-57) scale(0.9,1)">IV-B</text>
<text class="s" style="stroke-width:.55px" font-size="13.8" transform="translate(398.5,733.55) rotate(-57) scale(0.9,1)">IV-D1</text>
<text class="s" style="stroke-width:.55px" font-size="13.8" transform="translate(431.7,733.55) rotate(-57) scale(0.9,1)">ET-P</text>
<text class="s" style="stroke-width:.55px" font-size="13.8" transform="translate(463.2,733.55) rotate(-57) scale(0.9,1)">N</text>
<text class="s" font-size="14" text-anchor="middle" transform="translate(322,1010.6) scale(0.965,1)">1077V</text>
<text class="s" font-size="14" text-anchor="middle" transform="translate(383.3,1010.6) scale(0.965,1)">1077C</text>
<text class="s" font-size="14" text-anchor="middle" transform="translate(444.5,1010.6) scale(0.965,1)">1077R</text>
<g>
<rect x="501.25" y="802.68" width="195.75" height="0.8" fill="#f1f1f1"/>
<rect x="501.25" y="865.55" width="195.75" height="0.8" fill="#f1f1f1"/>
<rect x="501.25" y="928.43" width="195.75" height="0.8" fill="#f1f1f1"/>
<rect x="504.2" y="740.2" width="26.9" height="92.95" fill="#E2DCFC"/>
<rect x="504.2" y="833" width="26.9" height="31.34" fill="#649B68"/>
<rect x="504.2" y="864.19" width="26.9" height="12.98" fill="#86FCFA"/>
<rect x="504.2" y="877.02" width="26.9" height="7.44" fill="#8FA7FA"/>
<rect x="504.2" y="884.31" width="26.9" height="1.41" fill="#5C93FA"/>
<rect x="504.2" y="885.57" width="26.9" height="6.19" fill="url(#gr)"/>
<rect x="517.15" y="885.57" width="1" height="6.04" fill="#E8EBED" opacity=".55"/>
<rect x="504.2" y="891.6" width="26.9" height="28.07" fill="#DC3C40"/>
<rect x="504.2" y="919.52" width="26.9" height="29.58" fill="#F0868A"/>
<rect x="504.2" y="948.95" width="26.9" height="20.77" fill="#C0409C"/>
<rect x="504.2" y="969.57" width="26.9" height="11.72" fill="#EA8CC8"/>
<rect x="504.2" y="981.14" width="26.9" height="3.42" fill="#7A1C60"/>
<rect x="504.2" y="985.92" width="26.9" height="5.93" fill="#C6A8B6"/>
<rect x="534.9" y="740.2" width="26.9" height="152.86" fill="#E2DCFC"/>
<rect x="534.9" y="892.91" width="26.9" height="67.44" fill="#649B68"/>
<rect x="534.9" y="960.2" width="26.9" height="1.41" fill="#86FCFA"/>
<rect x="534.9" y="961.46" width="26.9" height="10.23" fill="#8FA7FA"/>
<rect x="534.9" y="971.54" width="26.9" height="1.91" fill="#5C93FA"/>
<rect x="534.9" y="974.56" width="26.9" height="7.71" fill="#DC3C40"/>
<rect x="534.9" y="982.12" width="26.9" height="4.69" fill="#F0868A"/>
<rect x="534.9" y="986.66" width="26.9" height="2.17" fill="#C0409C"/>
<rect x="534.9" y="988.68" width="26.9" height="1.91" fill="#EA8CC8"/>
<rect x="534.9" y="990.44" width="26.9" height="1.41" fill="#C6A8B6"/>
<rect x="567.7" y="740.2" width="28" height="106.89" fill="#EF2D8C"/>
<rect x="567.7" y="846.94" width="28" height="102.86" fill="#E2DCFC"/>
<rect x="567.7" y="949.66" width="28" height="10.98" fill="#649B68"/>
<rect x="567.7" y="960.48" width="28" height="6.95" fill="#86FCFA"/>
<rect x="567.7" y="967.28" width="28" height="4.18" fill="#8FA7FA"/>
<rect x="567.7" y="971.31" width="28" height="3.42" fill="url(#gr)"/>
<rect x="567.7" y="974.58" width="28" height="3.67" fill="#DC3C40"/>
<rect x="567.7" y="978.11" width="28" height="4.18" fill="#F0868A"/>
<rect x="567.7" y="982.13" width="28" height="3.93" fill="#C0409C"/>
<rect x="567.7" y="985.91" width="28" height="1.66" fill="#EA8CC8"/>
<rect x="567.7" y="987.42" width="28" height="1.91" fill="#7A1C60"/>
<rect x="567.7" y="989.18" width="28" height="2.67" fill="#C6A8B6"/>
<rect x="598.9" y="740.2" width="28" height="149.94" fill="#E2DCFC"/>
<rect x="598.9" y="889.99" width="28" height="79.45" fill="#649B68"/>
<rect x="598.9" y="969.29" width="28" height="1.41" fill="#86FCFA"/>
<rect x="598.9" y="970.55" width="28" height="6.19" fill="#8FA7FA"/>
<rect x="598.9" y="976.59" width="28" height="1.41" fill="#5C93FA"/>
<rect x="598.9" y="979.62" width="28" height="5.44" fill="#DC3C40"/>
<rect x="598.9" y="984.9" width="28" height="3.42" fill="#F0868A"/>
<rect x="598.9" y="988.18" width="28" height="3.67" fill="#D860A8"/>
<rect x="633.5" y="740.2" width="27" height="6.95" fill="#EA9557"/>
<rect x="633.5" y="747" width="27" height="6.19" fill="url(#gr)"/>
<rect x="646.5" y="747" width="1" height="6.04" fill="#E8EBED" opacity=".55"/>
<rect x="633.5" y="753.04" width="27" height="45.47" fill="#EE6A90"/>
<rect x="633.5" y="798.35" width="27" height="191.48" fill="#D62040"/>
<rect x="663.7" y="740.2" width="27.4" height="4.43" fill="#7DD3F6"/>
<rect x="663.7" y="744.48" width="27.4" height="4.17" fill="#62658F"/>
<rect x="663.7" y="748.5" width="27.4" height="8.7" fill="#F28CF6"/>
<rect x="663.7" y="757.05" width="27.4" height="20.27" fill="#EA9557"/>
<rect x="663.7" y="777.17" width="27.4" height="10.71" fill="#E2DCFC"/>
<rect x="663.7" y="787.73" width="27.4" height="33.6" fill="#649B68"/>
<rect x="663.7" y="821.18" width="27.4" height="125.9" fill="url(#gr)"/>
<rect x="676.9" y="821.18" width="1" height="125.75" fill="#E8EBED" opacity=".55"/>
<rect x="663.7" y="946.93" width="27.4" height="2.92" fill="#DC3C40"/>
<rect x="663.7" y="949.7" width="27.4" height="39.13" fill="#F3A6DA"/>
<rect x="502.3" y="738.3" width="193.65" height="255.45" fill="none" stroke="#000" stroke-width="2.1"/>
<rect x="564.85" y="736.65" width="2.1" height="258.15" fill="#000"/>
<rect x="629.45" y="736.65" width="2.1" height="258.15" fill="#000"/>
</g>
<text class="s" style="stroke-width:.55px" font-size="13.8" transform="translate(518.15,734.05) rotate(-57) scale(0.9,1)">IV-B</text>
<text class="s" style="stroke-width:.55px" font-size="13.8" transform="translate(548.85,734.05) rotate(-57) scale(0.9,1)">IV-B</text>
<text class="s" style="stroke-width:.55px" font-size="13.8" transform="translate(582.2,734.05) rotate(-57) scale(0.9,1)">IV-B</text>
<text class="s" style="stroke-width:.55px" font-size="13.8" transform="translate(613.4,734.05) rotate(-57) scale(0.9,1)">IV-B</text>
<text class="s" style="stroke-width:.55px" font-size="13.8" transform="translate(647.5,734.05) rotate(-57) scale(0.9,1)">N</text>
<text class="s" style="stroke-width:.55px" font-size="13.8" transform="translate(677.9,734.05) rotate(-57) scale(0.9,1)">ET-P</text>
<text class="s" font-size="14" text-anchor="middle" transform="translate(532,1009.6) scale(0.965,1)">565V</text>
<text class="s" font-size="14" text-anchor="middle" transform="translate(597.8,1009.6) scale(0.965,1)">565C</text>
<text class="s" font-size="14" text-anchor="middle" transform="translate(664,1008.8) scale(0.965,1)">565R</text>
<g>
<rect x="711.25" y="800.12" width="194" height="0.8" fill="#f1f1f1"/>
<rect x="711.25" y="863.65" width="194" height="0.8" fill="#f1f1f1"/>
<rect x="711.25" y="927.18" width="194" height="0.8" fill="#f1f1f1"/>
<rect x="716.9" y="737" width="28.2" height="156.68" fill="#E2DCFC"/>
<rect x="716.9" y="893.53" width="28.2" height="97.72" fill="#649B68"/>
<rect x="748.9" y="737" width="25.3" height="254.25" fill="#649B68"/>
<rect x="777.1" y="737" width="29.1" height="235.7" fill="#E2DCFC"/>
<rect x="777.1" y="972.55" width="29.1" height="18.7" fill="#649B68"/>
<rect x="809.7" y="737" width="28" height="84.68" fill="#EF2D8C"/>
<rect x="809.7" y="821.53" width="28" height="1.17" fill="#EA9557"/>
<rect x="809.7" y="822.55" width="28" height="15.38" fill="#E2DCFC"/>
<rect x="809.7" y="837.78" width="28" height="135.2" fill="#649B68"/>
<rect x="809.7" y="972.82" width="28" height="14.87" fill="url(#gr)"/>
<rect x="823.2" y="972.82" width="1" height="14.72" fill="#E8EBED" opacity=".55"/>
<rect x="809.7" y="987.55" width="28" height="3.7" fill="#DF5C64"/>
<rect x="842.2" y="737" width="28.8" height="1.42" fill="#E2DCFC"/>
<rect x="842.2" y="738.27" width="28.8" height="6" fill="#EA9557"/>
<rect x="842.2" y="744.12" width="28.8" height="145.13" fill="#649B68"/>
<rect x="842.2" y="889.1" width="28.8" height="44.15" fill="url(#gr)"/>
<rect x="856.1" y="889.1" width="1" height="44" fill="#E8EBED" opacity=".55"/>
<rect x="842.2" y="933.11" width="28.8" height="2.18" fill="#6676F6"/>
<rect x="842.2" y="935.14" width="28.8" height="22.79" fill="#DF5C64"/>
<rect x="842.2" y="957.78" width="28.8" height="33.47" fill="#872A78"/>
<rect x="874.5" y="737" width="28.5" height="254.25" fill="#649B68"/>
<rect x="712.3" y="736.3" width="191.9" height="256.15" fill="none" stroke="#000" stroke-width="2.1"/>
<rect x="774.85" y="734.65" width="2.1" height="258.85" fill="#000"/>
<rect x="839.85" y="734.65" width="2.1" height="258.85" fill="#000"/>
</g>
<text class="s" style="stroke-width:.55px" font-size="13.8" transform="translate(728.5,729.55) rotate(-57) scale(0.9,1)">IV-D2</text>
<text class="s" style="stroke-width:.55px" font-size="13.8" transform="translate(759.05,729.55) rotate(-57) scale(0.9,1)">III-A</text>
<text class="s" style="stroke-width:.55px" font-size="13.8" transform="translate(789.15,729.55) rotate(-57) scale(0.9,1)">IV-D0</text>
<text class="s" style="stroke-width:.55px" font-size="13.8" transform="translate(821.2,729.55) rotate(-57) scale(0.9,1)">III-B</text>
<text class="s" style="stroke-width:.55px" font-size="13.8" transform="translate(854.1,729.55) rotate(-57) scale(0.9,1)">N</text>
<text class="s" style="stroke-width:.55px" font-size="13.8" transform="translate(886.25,729.55) rotate(-57) scale(0.9,1)">N</text>
<text class="s" font-size="14" text-anchor="middle" transform="translate(748.8,1008.8) scale(0.965,1)">927V</text>
<text class="s" font-size="14" text-anchor="middle" transform="translate(808,1007.6) scale(0.965,1)">927C</text>
<text class="s" font-size="14" text-anchor="middle" transform="translate(871,1008.8) scale(0.965,1)">927R</text>
<text class="s" font-size="21.3" style="stroke-width:.6px" x="182" y="342" textLength="38.6" lengthAdjust="spacingAndGlyphs">GRT</text>
<use href="#arr" transform="translate(233.6,320) scale(1,1)" fill="#FF1F0F"/>
<use href="#arr" transform="translate(409,320) scale(1,1)" fill="#FF1F0F"/>
<text class="s" font-size="21.3" style="stroke-width:.6px" x="427.7" y="342" textLength="38.6" lengthAdjust="spacingAndGlyphs">GRT</text>
<use href="#arr" transform="translate(649,319) scale(1,1)" fill="#3E80D2"/>
<use href="#arr" transform="translate(823.4,318) scale(1,0.89)" fill="#FF1F0F"/>
<text class="s" font-size="21.3" style="stroke-width:.6px" x="837" y="341.5" textLength="38.6" lengthAdjust="spacingAndGlyphs">GRT</text>
<use href="#arr" transform="translate(1245,320) scale(1,1)" fill="#FF1F0F"/>
<text class="s" font-size="21.3" style="stroke-width:.6px" x="1257.5" y="342" textLength="38.6" lengthAdjust="spacingAndGlyphs">GRT</text>
<text class="s" font-size="21.3" style="stroke-width:.6px" x="1402.8" y="342" textLength="38.6" lengthAdjust="spacingAndGlyphs">GRT</text>
<use href="#arr" transform="translate(1452.3,315.2) scale(1,0.93)" fill="#FF1F0F"/>
<use href="#arr" transform="translate(1520.3,318) scale(1,0.89)" fill="#F0982C"/>
<text class="s" font-size="21.3" style="stroke-width:.6px" x="1542.8" y="342" textLength="38.6" lengthAdjust="spacingAndGlyphs">RGT</text>
<use href="#arr" transform="translate(1602.7,318) scale(1,0.89)" fill="#F0982C"/>
<use href="#arr" transform="translate(1788,315) scale(1,1)" fill="#F0982C"/>
<text class="s" font-size="21.3" style="stroke-width:.6px" x="1804.4" y="341.6" textLength="38.6" lengthAdjust="spacingAndGlyphs">RGT</text>
<use href="#arr" transform="translate(1864.2,315) scale(1,1)" fill="#F0982C"/>
<text class="s" font-size="16.5" x="523.8" y="358.6" textLength="280" lengthAdjust="spacingAndGlyphs">Almost Complete GRT/<tspan font-style="italic">G. vaginalis</tspan></text>
<text class="s" font-size="21.3" style="stroke-width:.6px" x="148" y="700" textLength="38.6" lengthAdjust="spacingAndGlyphs">GRT</text>
<use href="#arr" transform="translate(203.9,681.5) scale(1,1)" fill="#FF1F0F"/>
<use href="#arr" transform="translate(244.9,681.5) scale(1,1)" fill="#FF1F0F"/>
<use href="#arr" transform="translate(641.8,681.5) scale(1,1)" fill="#FF1F0F"/>
<text class="s" font-size="21.3" style="stroke-width:.6px" x="656.3" y="700" textLength="38.6" lengthAdjust="spacingAndGlyphs">GRT</text>
<use href="#arr" transform="translate(1069.6,682.75) scale(1,1)" fill="#FF1F0F"/>
<text class="s" font-size="21.3" style="stroke-width:.6px" x="1085.6" y="699.9" textLength="38.6" lengthAdjust="spacingAndGlyphs">GRT</text>
<use href="#arr" transform="translate(1291.2,681.7) scale(1,1)" fill="#FF1F0F"/>
<text class="s" font-size="21.3" style="stroke-width:.6px" x="1306.7" y="700.3" textLength="38.6" lengthAdjust="spacingAndGlyphs">GRT</text>
<text class="s" font-size="21.3" style="stroke-width:.6px" x="414" y="1031" textLength="38.6" lengthAdjust="spacingAndGlyphs">GRT</text>
<use href="#arr" transform="translate(473.4,1005.2) scale(1,1)" fill="#FF1F0F"/>
<use href="#arr" transform="translate(638.9,1001.7) scale(1,1)" fill="#FF1F0F"/>
<use href="#arr" transform="translate(897,1000.3) scale(1,0.99)" fill="#3E80D2"/>
<text class="s" font-size="16.5" x="499.3" y="1040" textLength="266" lengthAdjust="spacingAndGlyphs"><tspan font-style="italic">Pseudomonas</tspan> Super colonization</text>
<text class="s" font-size="16.5" x="799.2" y="1040" textLength="179.6" lengthAdjust="spacingAndGlyphs">Complete GRT/<tspan font-style="italic">L. iners</tspan></text>
<text class="s" font-size="26" text-anchor="middle" x="793.7" y="540.6">*</text>
<text class="s" font-size="26" text-anchor="middle" x="1010" y="531.2">*</text>
<text class="s" font-size="26" text-anchor="middle" x="145.2" y="811.9">*</text>
<text class="s" font-size="26" text-anchor="middle" x="179.9" y="781.2">*</text>
<text class="s" font-size="26" text-anchor="middle" x="398" y="774.6">*</text>
<text class="s" font-size="26" text-anchor="middle" x="580.2" y="868.4">*</text>
<text class="s" font-size="26" text-anchor="middle" x="792.9" y="760.7">*</text>
<text class="s" font-size="26" text-anchor="middle" x="824.3" y="840.7">*</text>
<text x="1403" y="382.5" font-family="'Liberation Serif', serif" font-size="25.6" fill="#000">Species</text>
<rect x="1392.7" y="400.8" width="20" height="20.4" fill="#E5BDB5"/>
<text class="lg" x="1420.5" y="418.6">Anaerococcus tetradius</text>
<rect x="1392.62" y="423.5" width="20" height="20.9" fill="#5EE487"/>
<text class="lg" x="1420.5" y="442.93">Arcanobacterium sp.</text>
<rect x="1392.53" y="447.3" width="20" height="20.4" fill="#A3FAFA"/>
<text class="lg" x="1420.5" y="467.26">Atopobium vaginae</text>
<rect x="1392.45" y="471.5" width="20" height="20.9" fill="#A9E6F6"/>
<text class="lg" x="1420.5" y="491.59">Bifidobacterium breve</text>
<rect x="1392.37" y="495.9" width="20" height="22.6" fill="#FA8CF8"/>
<text class="lg" x="1420.5" y="515.92">BVAB1</text>
<rect x="1392.28" y="520.6" width="20" height="22.1" fill="#F52C8C"/>
<text class="lg" x="1420.5" y="540.25">Chlamydia trachomatis</text>
<rect x="1392.2" y="545.6" width="20" height="21.8" fill="#EC9350"/>
<text class="lg" x="1420.5" y="564.58">Finegoldia magna</text>
<rect x="1392.12" y="570.3" width="20" height="21.8" fill="#E2DCFC"/>
<text class="lg" x="1420.5" y="588.91">Gardnerella vaginalis</text>
<rect x="1392.03" y="595.6" width="20" height="21.8" fill="#A3FBB6"/>
<text class="lg" x="1420.5" y="613.24">Lactobacillus coleohominis</text>
<rect x="1391.95" y="620.3" width="20" height="21.8" fill="#56F656"/>
<text class="lg" x="1420.5" y="637.57">Lactobacillus crispatus</text>
<rect x="1391.87" y="645" width="20" height="21.8" fill="#5DF57C"/>
<text class="lg" x="1420.5" y="661.9">Lactobacillus helveticus</text>
<rect x="1391.78" y="669.7" width="20" height="21.8" fill="#5F9C66"/>
<text class="lg" x="1420.5" y="686.23">Lactobacillus iners</text>
<rect x="1391.7" y="694.5" width="20" height="21.4" fill="#9AFBAE"/>
<text class="lg" x="1420.5" y="710.56">Lactobacillus jensenii</text>
<rect x="1391.62" y="720.5" width="20" height="22.9" fill="#7FFCFC"/>
<text class="lg" x="1420.5" y="734.89">Mageeibacillus indolicus</text>
<rect x="1391.53" y="746.4" width="20" height="21.3" fill="#8FA7FA"/>
<text class="lg" x="1420.5" y="759.22">Megasphaera genomosp.</text>
<rect x="1391.45" y="770.8" width="20" height="21.3" fill="#5C93FA"/>
<text class="lg" x="1420.5" y="783.55">Megasphaera sp.</text>
<rect x="1391.37" y="795.2" width="20" height="21.3" fill="#C5EEF8"/>
<text class="lg" x="1420.5" y="807.88">Mobiluncus curtsii</text>
<rect x="1391.28" y="819.6" width="20" height="16.7" fill="#7FFAFA"/>
<text class="lg" x="1420.5" y="832.21">Mobiluncus Mulieris</text>
<rect x="1391.2" y="838.8" width="20" height="20.4" fill="#A847F7"/>
<text class="lg" x="1420.5" y="856.54">Mycoplasma hominis</text>
<rect x="1391.12" y="861.3" width="20" height="20.7" fill="#F0F6C0"/>
<text class="lg" x="1420.5" y="880.87">Peptoniphilus asaccharolyticus</text>
<rect x="1391.03" y="885.7" width="20" height="21.3" fill="#5BA5DC"/>
<text class="lg" x="1420.5" y="905.2">Peptoniphilus harei</text>
<rect x="1390.95" y="910" width="20" height="21.5" fill="#3F7ED0"/>
<text class="lg" x="1420.5" y="929.53">Peptoniphilus lacrimalis</text>
<rect x="1390.87" y="934.5" width="20" height="21.4" fill="#6676F6"/>
<text class="lg" x="1420.5" y="953.86">Peptostreptococcus anaerobius</text>
<rect x="1390.78" y="959.8" width="20" height="21.4" fill="#475A9C"/>
<text class="lg" x="1420.5" y="978.19">Peptostreptococcus sp.</text>
<rect x="1390.7" y="983.3" width="20" height="21.3" fill="#A51B12"/>
<text class="lg" x="1420.5" y="1002.52">Porphyromonas uenonis</text>
<rect x="1704" y="391.4" width="20" height="19.8" fill="#F02633"/>
<text class="lg" x="1735" y="408.4">Prevotella amnii</text>
<rect x="1703.97" y="413.8" width="20" height="21.4" fill="#F4BCE6"/>
<text class="lg" x="1735" y="432.8">Prevotella bergensis</text>
<rect x="1703.95" y="437.7" width="20" height="21.4" fill="#E9505F"/>
<text class="lg" x="1735" y="457.19">Prevotella bivia</text>
<rect x="1703.92" y="462.3" width="20" height="21.7" fill="#F08088"/>
<text class="lg" x="1735" y="481.59">Prevotella buccalis</text>
<rect x="1703.89" y="487.2" width="20" height="22.4" fill="#F3A0DA"/>
<text class="lg" x="1735" y="505.98">Prevotella corporis</text>
<rect x="1703.87" y="512.2" width="20" height="22.3" fill="#F6DFDA"/>
<text class="lg" x="1735" y="530.38">Prevotella disiens</text>
<rect x="1703.84" y="537.7" width="20" height="22.3" fill="#F774C4"/>
<text class="lg" x="1735" y="554.78">Prevotella melaninogenica</text>
<rect x="1703.81" y="563" width="20" height="22.3" fill="#D0359A"/>
<text class="lg" x="1735" y="579.17">Prevotella sp.</text>
<rect x="1703.78" y="588.5" width="20" height="21.7" fill="#F682C4"/>
<text class="lg" x="1735" y="603.57">Prevotella timonensis</text>
<rect x="1703.76" y="613.4" width="20" height="22.4" fill="#7F1A66"/>
<text class="lg" x="1735" y="627.96">Ruminococcus lactaris</text>
<rect x="1703.73" y="639" width="20" height="22.4" fill="#F6D6E6"/>
<text class="lg" x="1735" y="652.36">Sneathia amnii</text>
<rect x="1703.7" y="664.6" width="20" height="18.2" fill="#C6A8B6"/>
<text class="lg" x="1735" y="676.76">Sneathia sanguinegens</text>
<rect x="1703.68" y="685.3" width="20" height="21.7" fill="#B2ECF8"/>
<text class="lg" x="1735" y="701.15">Streptococcus agalactiae</text>
<rect x="1703.65" y="709.8" width="20" height="20.7" fill="#AEE8F8"/>
<text class="lg" x="1735" y="725.55">Streptococcus anguinosus</text>
<rect x="1703.62" y="732.7" width="20" height="18" fill="#808080"/>
<text class="lg" x="1735" y="749.94">Ureaplasma urealyticum</text>
<rect x="1703.6" y="755" width="20" height="22.3" fill="#F494F6"/>
<text class="lg" x="1735" y="774.34">Bacteroides stercoris</text>
<rect x="1703.57" y="780" width="20" height="22.3" fill="#F660F6"/>
<text class="lg" x="1735" y="798.74">Bacteroides vulgatus</text>
<rect x="1703.54" y="805" width="20" height="22.3" fill="#72CEF6"/>
<text class="lg" x="1735" y="823.13">Bifidobacterium adolescentis</text>
<rect x="1703.52" y="830" width="20" height="21.7" fill="#72CEF4"/>
<text class="lg" x="1735" y="847.53">Bifidobacterium longum</text>
<rect x="1703.49" y="855" width="20" height="21.7" fill="#5C6298"/>
<text class="lg" x="1735" y="871.92">Collinsella aerofaciens</text>
<rect x="1703.46" y="880" width="20" height="21.7" fill="#EC9328"/>
<text class="lg" x="1735" y="896.32">Escherichia coli</text>
<rect x="1703.43" y="904.3" width="20" height="22.4" fill="#7C4520"/>
<text class="lg" x="1735" y="920.72">Eubacterium rectale</text>
<rect x="1703.41" y="929.3" width="20" height="21.4" fill="#F28CF6"/>
<text class="lg" x="1735" y="945.11">Faecalibacterium prausnitzii</text>
<rect x="1703.38" y="954" width="20" height="22" fill="#F0FA40"/>
<text class="lg" x="1735" y="969.51">Prevotella sp. 885</text>
<rect x="1703.35" y="979" width="20" height="18.7" fill="#EE6A90"/>
<text class="lg" x="1735" y="993.9">Pseudomonas fluorescens group</text>
<rect x="1703.33" y="1000.7" width="20" height="20" fill="#D92343"/>
<text class="lg" x="1735" y="1018.3">Pseudomonas yamanorum</text>
<rect x="1703.3" y="1026" width="20" height="20.7" fill="#7F6E4E"/>
<text class="lg" x="1735" y="1042.7">Parvimonas sp. KA00067</text>
</svg></body></html>
